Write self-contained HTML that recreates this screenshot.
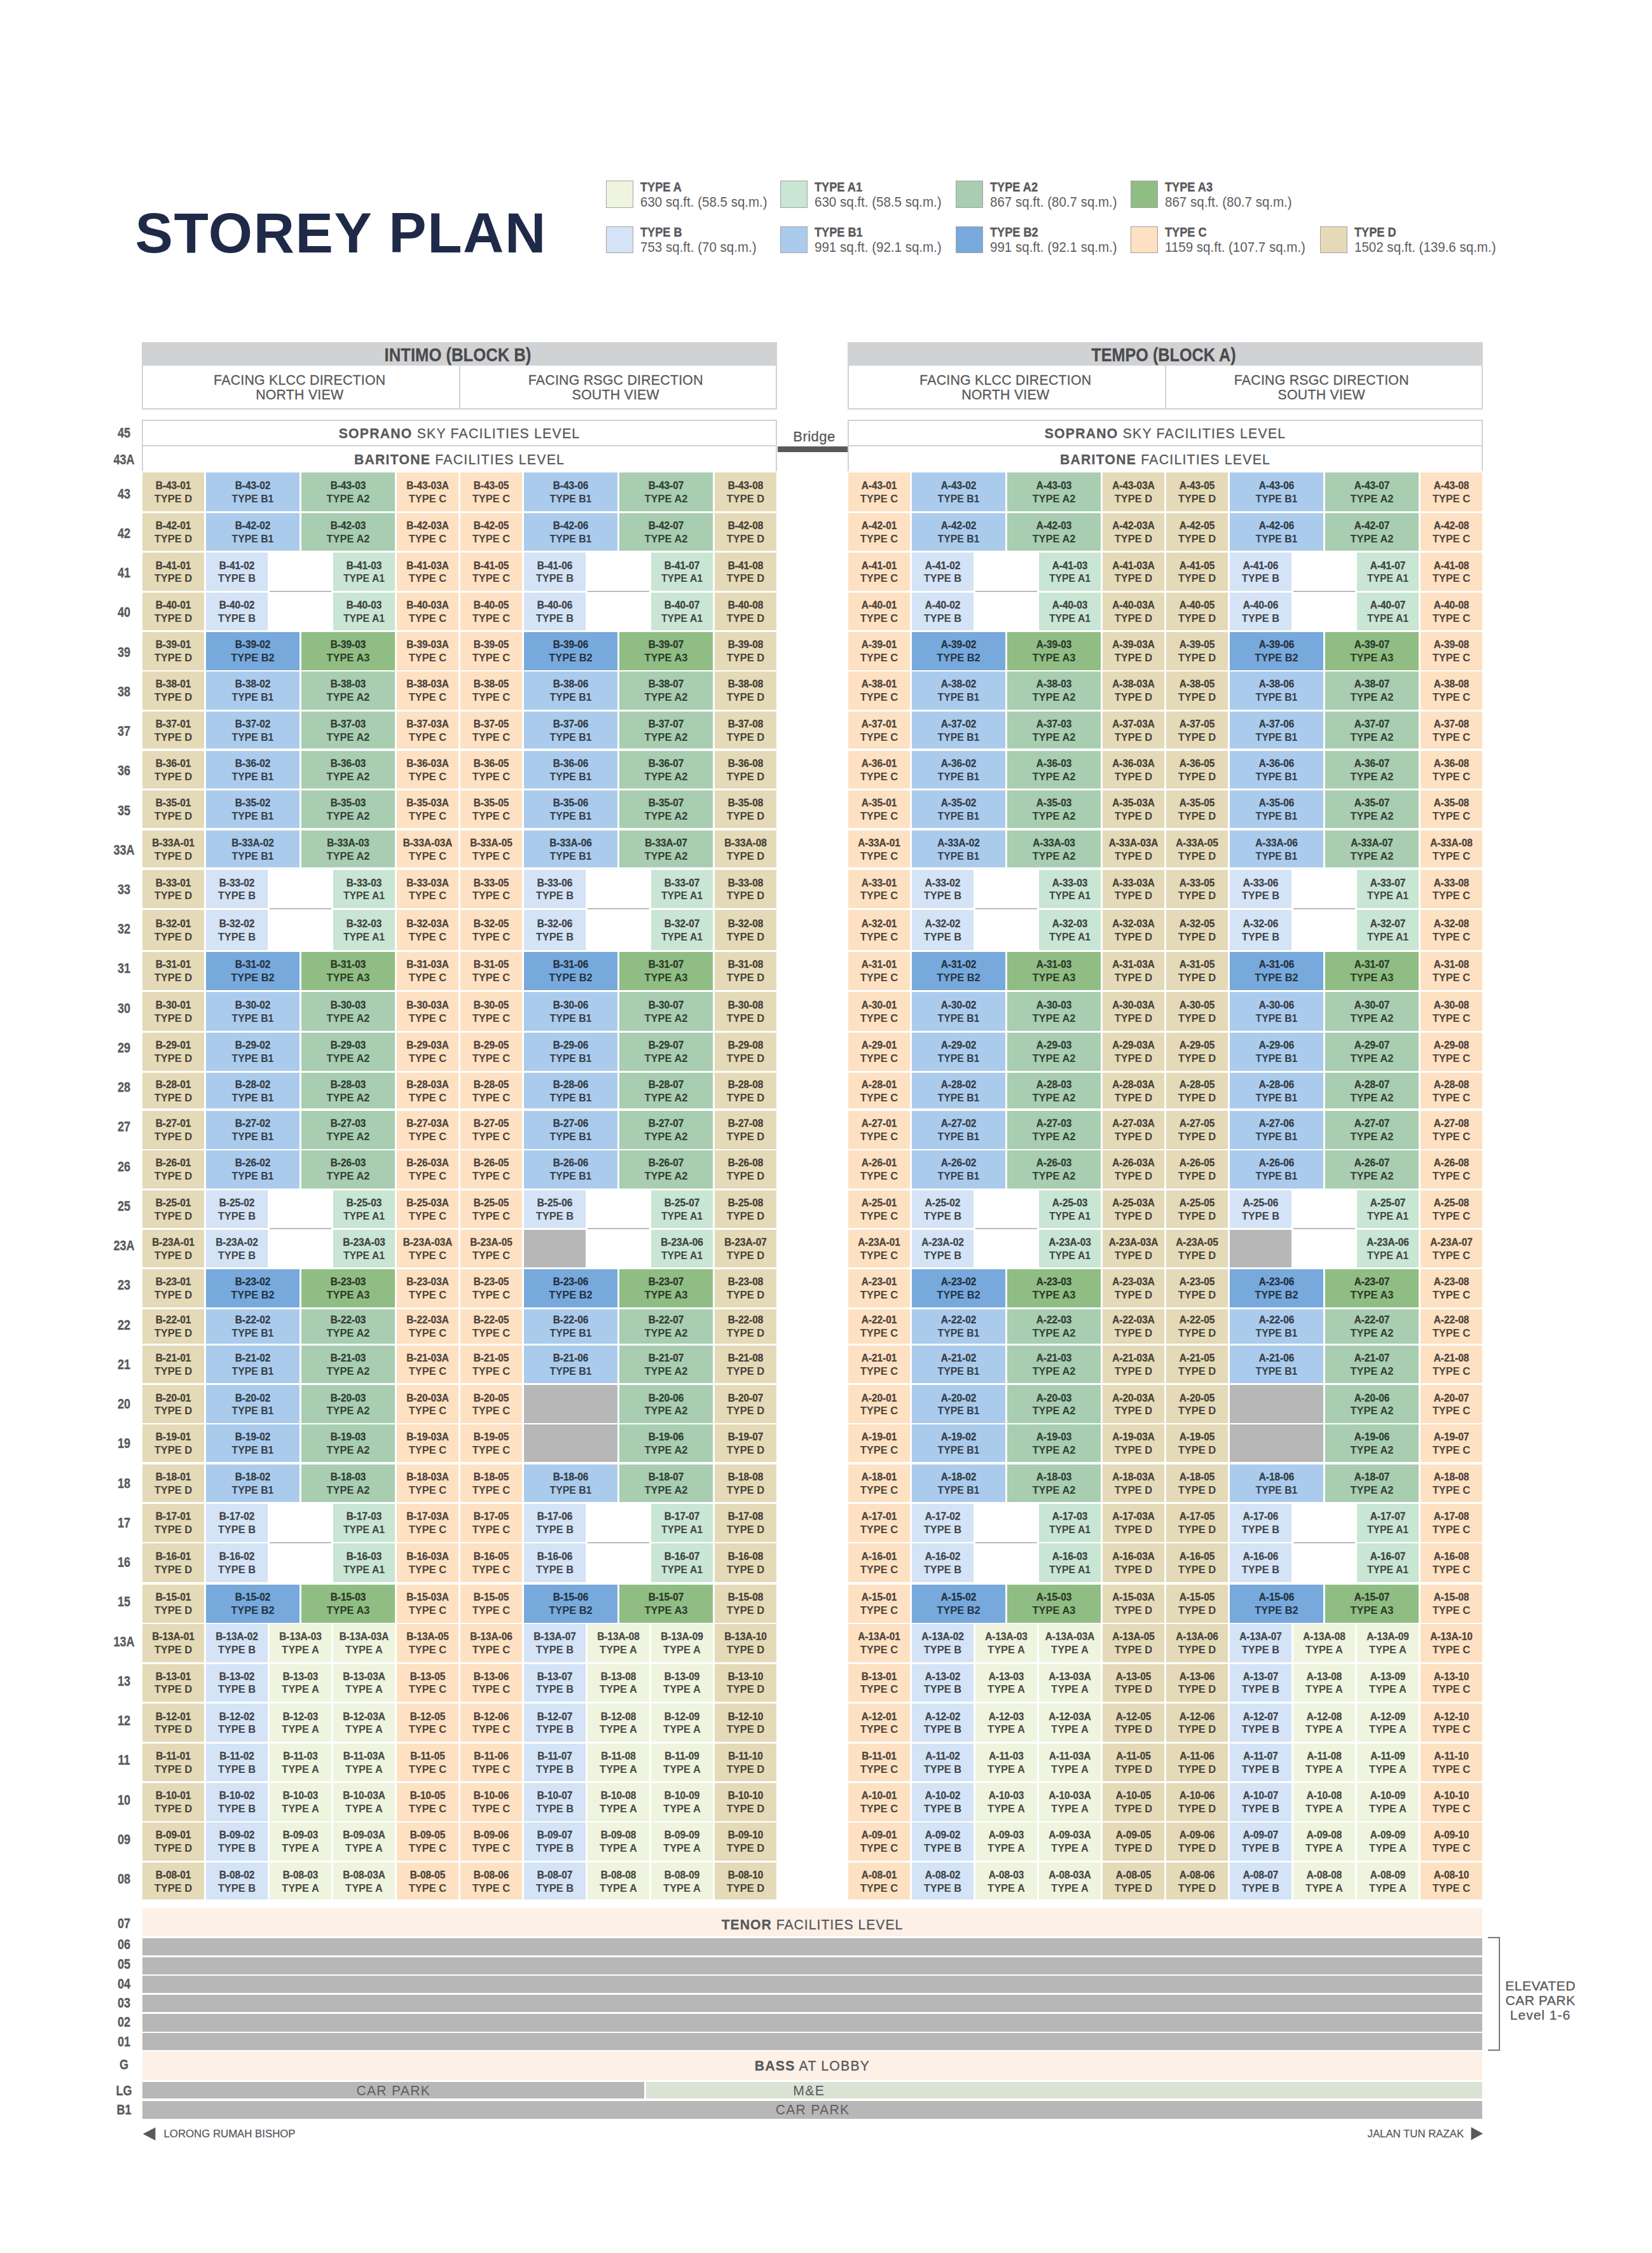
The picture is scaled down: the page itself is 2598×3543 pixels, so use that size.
<!DOCTYPE html><html><head><meta charset="utf-8"><title>Storey Plan</title><style>
*{margin:0;padding:0;box-sizing:border-box}
html,body{width:2598px;height:3543px;background:#fff;overflow:hidden}
body{position:relative;font-family:"Liberation Sans",sans-serif}
div{position:absolute}
.c{overflow:visible}
.c i,.c u{position:absolute;left:-20px;right:-20px;text-align:center;white-space:nowrap;font-weight:bold;line-height:1;font-size:16.8px;font-style:normal;text-decoration:none}
.c i{transform:scaleX(.915);-webkit-text-stroke:.35px currentColor}
.c u{transform:scaleX(.98)}
.c u.n{transform:scaleX(.94)}
.fl{left:160px;width:70px;text-align:center;font-weight:bold;font-size:22px;line-height:1;color:#58595b;transform:scaleX(.82);white-space:nowrap;-webkit-text-stroke:.35px #58595b}
.gt{white-space:nowrap;line-height:1;color:#58595b;letter-spacing:1.3px}
.tA{background:#eff4df;color:#4a4b45}.tA1{background:#c9e5d3;color:#3e4641}.tA2{background:#a8cdb1;color:#343f36}.tA3{background:#90bd84;color:#2c3a28}.tB{background:#d4e3f5;color:#41464b}.tB1{background:#abcbec;color:#353e49}.tB2{background:#77a9dc;color:#243444}.tC{background:#fde1c2;color:#4e453c}.tD{background:#e4dab8;color:#464339}.tG{background:#b8b7b7;color:#393838}</style></head><body><div style="top:321.66px;font-size:89px;line-height:1;white-space:nowrap;left:212.50px;font-weight:bold;color:#1f2a48;letter-spacing:1.6px;">STOREY PLAN</div><div style="left:953px;top:284.3px;width:42.5px;height:42.5px;background:#eff4df;border:1.3px solid #a3a3a3"></div><div style="top:283.12px;font-size:21px;line-height:1;white-space:nowrap;left:1007.30px;transform:scaleX(0.865);transform-origin:0 0;font-weight:bold;color:#58595b;-webkit-text-stroke:.4px #58595b;">TYPE A</div><div style="top:306.98px;font-size:22px;line-height:1;white-space:nowrap;left:1007.30px;transform:scaleX(0.933);transform-origin:0 0;color:#5d5d5f;">630 sq.ft. (58.5 sq.m.)</div><div style="left:1227px;top:284.3px;width:42.5px;height:42.5px;background:#c9e5d3;border:1.3px solid #a3a3a3"></div><div style="top:283.12px;font-size:21px;line-height:1;white-space:nowrap;left:1281.30px;transform:scaleX(0.865);transform-origin:0 0;font-weight:bold;color:#58595b;-webkit-text-stroke:.4px #58595b;">TYPE A1</div><div style="top:306.98px;font-size:22px;line-height:1;white-space:nowrap;left:1281.30px;transform:scaleX(0.933);transform-origin:0 0;color:#5d5d5f;">630 sq.ft. (58.5 sq.m.)</div><div style="left:1503px;top:284.3px;width:42.5px;height:42.5px;background:#a8cdb1;border:1.3px solid #a3a3a3"></div><div style="top:283.12px;font-size:21px;line-height:1;white-space:nowrap;left:1557.30px;transform:scaleX(0.865);transform-origin:0 0;font-weight:bold;color:#58595b;-webkit-text-stroke:.4px #58595b;">TYPE A2</div><div style="top:306.98px;font-size:22px;line-height:1;white-space:nowrap;left:1557.30px;transform:scaleX(0.933);transform-origin:0 0;color:#5d5d5f;">867 sq.ft. (80.7 sq.m.)</div><div style="left:1778px;top:284.3px;width:42.5px;height:42.5px;background:#90bd84;border:1.3px solid #a3a3a3"></div><div style="top:283.12px;font-size:21px;line-height:1;white-space:nowrap;left:1832.30px;transform:scaleX(0.865);transform-origin:0 0;font-weight:bold;color:#58595b;-webkit-text-stroke:.4px #58595b;">TYPE A3</div><div style="top:306.98px;font-size:22px;line-height:1;white-space:nowrap;left:1832.30px;transform:scaleX(0.933);transform-origin:0 0;color:#5d5d5f;">867 sq.ft. (80.7 sq.m.)</div><div style="left:953px;top:355.6px;width:42.5px;height:42.5px;background:#d4e3f5;border:1.3px solid #a3a3a3"></div><div style="top:354.42px;font-size:21px;line-height:1;white-space:nowrap;left:1007.30px;transform:scaleX(0.865);transform-origin:0 0;font-weight:bold;color:#58595b;-webkit-text-stroke:.4px #58595b;">TYPE B</div><div style="top:378.28px;font-size:22px;line-height:1;white-space:nowrap;left:1007.30px;transform:scaleX(0.933);transform-origin:0 0;color:#5d5d5f;">753 sq.ft. (70 sq.m.)</div><div style="left:1227px;top:355.6px;width:42.5px;height:42.5px;background:#abcbec;border:1.3px solid #a3a3a3"></div><div style="top:354.42px;font-size:21px;line-height:1;white-space:nowrap;left:1281.30px;transform:scaleX(0.865);transform-origin:0 0;font-weight:bold;color:#58595b;-webkit-text-stroke:.4px #58595b;">TYPE B1</div><div style="top:378.28px;font-size:22px;line-height:1;white-space:nowrap;left:1281.30px;transform:scaleX(0.933);transform-origin:0 0;color:#5d5d5f;">991 sq.ft. (92.1 sq.m.)</div><div style="left:1503px;top:355.6px;width:42.5px;height:42.5px;background:#77a9dc;border:1.3px solid #a3a3a3"></div><div style="top:354.42px;font-size:21px;line-height:1;white-space:nowrap;left:1557.30px;transform:scaleX(0.865);transform-origin:0 0;font-weight:bold;color:#58595b;-webkit-text-stroke:.4px #58595b;">TYPE B2</div><div style="top:378.28px;font-size:22px;line-height:1;white-space:nowrap;left:1557.30px;transform:scaleX(0.933);transform-origin:0 0;color:#5d5d5f;">991 sq.ft. (92.1 sq.m.)</div><div style="left:1778px;top:355.6px;width:42.5px;height:42.5px;background:#fde1c2;border:1.3px solid #a3a3a3"></div><div style="top:354.42px;font-size:21px;line-height:1;white-space:nowrap;left:1832.30px;transform:scaleX(0.865);transform-origin:0 0;font-weight:bold;color:#58595b;-webkit-text-stroke:.4px #58595b;">TYPE C</div><div style="top:378.28px;font-size:22px;line-height:1;white-space:nowrap;left:1832.30px;transform:scaleX(0.933);transform-origin:0 0;color:#5d5d5f;">1159 sq.ft. (107.7 sq.m.)</div><div style="left:2076px;top:355.6px;width:42.5px;height:42.5px;background:#e4dab8;border:1.3px solid #a3a3a3"></div><div style="top:354.42px;font-size:21px;line-height:1;white-space:nowrap;left:2130.30px;transform:scaleX(0.865);transform-origin:0 0;font-weight:bold;color:#58595b;-webkit-text-stroke:.4px #58595b;">TYPE D</div><div style="top:378.28px;font-size:22px;line-height:1;white-space:nowrap;left:2130.30px;transform:scaleX(0.933);transform-origin:0 0;color:#5d5d5f;">1502 sq.ft. (139.6 sq.m.)</div><div style="left:223px;top:538px;width:999px;height:36.5px;background:#d1d2d4"></div><div style="top:541.97px;font-size:30.4px;line-height:1;white-space:nowrap;left:319.50px;width:800px;text-align:center;transform:scaleX(0.844);font-weight:bold;color:#4a4a4d;-webkit-text-stroke:.3px #4a4a4d;">INTIMO (BLOCK B)</div><div style="left:223px;top:574.5px;width:999px;height:69.5px;border:2px solid #d1d2d4;border-top:0"></div><div style="left:721.5px;top:574.5px;width:2px;height:68px;background:#d1d2d4"></div><div style="top:588.17px;font-size:21.3px;line-height:1;white-space:nowrap;left:271.25px;width:400px;text-align:center;color:#58595b;letter-spacing:.25px;-webkit-text-stroke:.3px #58595b;">FACING KLCC DIRECTION</div><div style="top:610.57px;font-size:21.3px;line-height:1;white-space:nowrap;left:271.25px;width:400px;text-align:center;color:#58595b;letter-spacing:.25px;-webkit-text-stroke:.3px #58595b;">NORTH VIEW</div><div style="top:588.17px;font-size:21.3px;line-height:1;white-space:nowrap;left:768.25px;width:400px;text-align:center;color:#58595b;letter-spacing:.25px;-webkit-text-stroke:.3px #58595b;">FACING RSGC DIRECTION</div><div style="top:610.57px;font-size:21.3px;line-height:1;white-space:nowrap;left:768.25px;width:400px;text-align:center;color:#58595b;letter-spacing:.25px;-webkit-text-stroke:.3px #58595b;">SOUTH VIEW</div><div style="left:223px;top:660.2px;width:999px;height:80.4px;border:2px solid #d1d2d4;border-bottom:0"></div><div style="left:223px;top:700.3px;width:999px;height:1.9px;background:#d1d2d4"></div><div style="top:670.65px;font-size:21.2px;line-height:1;white-space:nowrap;left:422.50px;width:600px;text-align:center;color:#58595b;letter-spacing:1.25px;-webkit-text-stroke:.3px #58595b;"><b>SOPRANO</b> SKY FACILITIES LEVEL</div><div style="top:712.25px;font-size:21.2px;line-height:1;white-space:nowrap;left:422.50px;width:600px;text-align:center;color:#58595b;letter-spacing:1.25px;-webkit-text-stroke:.3px #58595b;"><b>BARITONE</b> FACILITIES LEVEL</div><div style="left:1333px;top:538px;width:999px;height:36.5px;background:#d1d2d4"></div><div style="top:541.97px;font-size:30.4px;line-height:1;white-space:nowrap;left:1429.50px;width:800px;text-align:center;transform:scaleX(0.83);font-weight:bold;color:#4a4a4d;-webkit-text-stroke:.3px #4a4a4d;">TEMPO (BLOCK A)</div><div style="left:1333px;top:574.5px;width:999px;height:69.5px;border:2px solid #d1d2d4;border-top:0"></div><div style="left:1831.5px;top:574.5px;width:2px;height:68px;background:#d1d2d4"></div><div style="top:588.17px;font-size:21.3px;line-height:1;white-space:nowrap;left:1381.25px;width:400px;text-align:center;color:#58595b;letter-spacing:.25px;-webkit-text-stroke:.3px #58595b;">FACING KLCC DIRECTION</div><div style="top:610.57px;font-size:21.3px;line-height:1;white-space:nowrap;left:1381.25px;width:400px;text-align:center;color:#58595b;letter-spacing:.25px;-webkit-text-stroke:.3px #58595b;">NORTH VIEW</div><div style="top:588.17px;font-size:21.3px;line-height:1;white-space:nowrap;left:1878.25px;width:400px;text-align:center;color:#58595b;letter-spacing:.25px;-webkit-text-stroke:.3px #58595b;">FACING RSGC DIRECTION</div><div style="top:610.57px;font-size:21.3px;line-height:1;white-space:nowrap;left:1878.25px;width:400px;text-align:center;color:#58595b;letter-spacing:.25px;-webkit-text-stroke:.3px #58595b;">SOUTH VIEW</div><div style="left:1333px;top:660.2px;width:999px;height:80.4px;border:2px solid #d1d2d4;border-bottom:0"></div><div style="left:1333px;top:700.3px;width:999px;height:1.9px;background:#d1d2d4"></div><div style="top:670.65px;font-size:21.2px;line-height:1;white-space:nowrap;left:1532.50px;width:600px;text-align:center;color:#58595b;letter-spacing:1.25px;-webkit-text-stroke:.3px #58595b;"><b>SOPRANO</b> SKY FACILITIES LEVEL</div><div style="top:712.25px;font-size:21.2px;line-height:1;white-space:nowrap;left:1532.50px;width:600px;text-align:center;color:#58595b;letter-spacing:1.25px;-webkit-text-stroke:.3px #58595b;"><b>BARITONE</b> FACILITIES LEVEL</div><div style="left:1222.5px;top:702px;width:110px;height:8.7px;background:#58595b"></div><div style="top:676.28px;font-size:22px;line-height:1;white-space:nowrap;left:1180.50px;width:200px;text-align:center;color:#58595b;letter-spacing:.5px;-webkit-text-stroke:.3px #58595b;">Bridge</div><div class="fl" style="top:669.78px">45</div><div class="fl" style="top:712.38px">43A</div><div class="fl" style="top:765.58px">43</div><div class="fl" style="top:827.82px">42</div><div class="fl" style="top:890.06px">41</div><div class="fl" style="top:952.30px">40</div><div class="fl" style="top:1014.54px">39</div><div class="fl" style="top:1076.78px">38</div><div class="fl" style="top:1139.02px">37</div><div class="fl" style="top:1201.26px">36</div><div class="fl" style="top:1263.50px">35</div><div class="fl" style="top:1325.74px">33A</div><div class="fl" style="top:1387.98px">33</div><div class="fl" style="top:1450.22px">32</div><div class="fl" style="top:1512.46px">31</div><div class="fl" style="top:1574.70px">30</div><div class="fl" style="top:1636.94px">29</div><div class="fl" style="top:1699.18px">28</div><div class="fl" style="top:1761.42px">27</div><div class="fl" style="top:1823.66px">26</div><div class="fl" style="top:1885.90px">25</div><div class="fl" style="top:1948.14px">23A</div><div class="fl" style="top:2010.38px">23</div><div class="fl" style="top:2072.62px">22</div><div class="fl" style="top:2134.86px">21</div><div class="fl" style="top:2197.10px">20</div><div class="fl" style="top:2259.34px">19</div><div class="fl" style="top:2321.58px">18</div><div class="fl" style="top:2383.82px">17</div><div class="fl" style="top:2446.06px">16</div><div class="fl" style="top:2508.30px">15</div><div class="fl" style="top:2570.54px">13A</div><div class="fl" style="top:2632.78px">13</div><div class="fl" style="top:2695.02px">12</div><div class="fl" style="top:2757.26px">11</div><div class="fl" style="top:2819.50px">10</div><div class="fl" style="top:2881.74px">09</div><div class="fl" style="top:2943.98px">08</div><div class="c tD" style="left:224.0px;top:743.1px;width:97px;height:60.5px"><i style="top:12.73px">B-43-01</i><u class="" style="top:33.53px">TYPE D</u></div><div class="c tB1" style="left:324.0px;top:743.1px;width:147px;height:60.5px"><i style="top:12.73px">B-43-02</i><u class="n" style="top:33.53px">TYPE B1</u></div><div class="c tA2" style="left:474.0px;top:743.1px;width:147px;height:60.5px"><i style="top:12.73px">B-43-03</i><u class="" style="top:33.53px">TYPE A2</u></div><div class="c tC" style="left:624.0px;top:743.1px;width:97px;height:60.5px"><i style="top:12.73px">B-43-03A</i><u class="" style="top:33.53px">TYPE C</u></div><div class="c tC" style="left:724.0px;top:743.1px;width:97px;height:60.5px"><i style="top:12.73px">B-43-05</i><u class="" style="top:33.53px">TYPE C</u></div><div class="c tB1" style="left:824.0px;top:743.1px;width:147px;height:60.5px"><i style="top:12.73px">B-43-06</i><u class="n" style="top:33.53px">TYPE B1</u></div><div class="c tA2" style="left:974.0px;top:743.1px;width:147px;height:60.5px"><i style="top:12.73px">B-43-07</i><u class="" style="top:33.53px">TYPE A2</u></div><div class="c tD" style="left:1124.0px;top:743.1px;width:97px;height:60.5px"><i style="top:12.73px">B-43-08</i><u class="" style="top:33.53px">TYPE D</u></div><div class="c tD" style="left:224.0px;top:807.0px;width:97px;height:58.7px"><i style="top:11.83px">B-42-01</i><u class="" style="top:32.63px">TYPE D</u></div><div class="c tB1" style="left:324.0px;top:807.0px;width:147px;height:58.7px"><i style="top:11.83px">B-42-02</i><u class="n" style="top:32.63px">TYPE B1</u></div><div class="c tA2" style="left:474.0px;top:807.0px;width:147px;height:58.7px"><i style="top:11.83px">B-42-03</i><u class="" style="top:32.63px">TYPE A2</u></div><div class="c tC" style="left:624.0px;top:807.0px;width:97px;height:58.7px"><i style="top:11.83px">B-42-03A</i><u class="" style="top:32.63px">TYPE C</u></div><div class="c tC" style="left:724.0px;top:807.0px;width:97px;height:58.7px"><i style="top:11.83px">B-42-05</i><u class="" style="top:32.63px">TYPE C</u></div><div class="c tB1" style="left:824.0px;top:807.0px;width:147px;height:58.7px"><i style="top:11.83px">B-42-06</i><u class="n" style="top:32.63px">TYPE B1</u></div><div class="c tA2" style="left:974.0px;top:807.0px;width:147px;height:58.7px"><i style="top:11.83px">B-42-07</i><u class="" style="top:32.63px">TYPE A2</u></div><div class="c tD" style="left:1124.0px;top:807.0px;width:97px;height:58.7px"><i style="top:11.83px">B-42-08</i><u class="" style="top:32.63px">TYPE D</u></div><div class="c tD" style="left:224.0px;top:869.2px;width:97px;height:59.7px"><i style="top:12.33px">B-41-01</i><u class="" style="top:33.13px">TYPE D</u></div><div class="c tB" style="left:324.0px;top:869.2px;width:97px;height:59.7px"><i style="top:12.33px">B-41-02</i><u class="" style="top:33.13px">TYPE B</u></div><div class="c tA1" style="left:524.0px;top:869.2px;width:97px;height:59.7px"><i style="top:12.33px">B-41-03</i><u class="n" style="top:33.13px">TYPE A1</u></div><div class="c tC" style="left:624.0px;top:869.2px;width:97px;height:59.7px"><i style="top:12.33px">B-41-03A</i><u class="" style="top:33.13px">TYPE C</u></div><div class="c tC" style="left:724.0px;top:869.2px;width:97px;height:59.7px"><i style="top:12.33px">B-41-05</i><u class="" style="top:33.13px">TYPE C</u></div><div class="c tB" style="left:824.0px;top:869.2px;width:97px;height:59.7px"><i style="top:12.33px">B-41-06</i><u class="" style="top:33.13px">TYPE B</u></div><div class="c tA1" style="left:1024.0px;top:869.2px;width:97px;height:59.7px"><i style="top:12.33px">B-41-07</i><u class="n" style="top:33.13px">TYPE A1</u></div><div class="c tD" style="left:1124.0px;top:869.2px;width:97px;height:59.7px"><i style="top:12.33px">B-41-08</i><u class="" style="top:33.13px">TYPE D</u></div><div style="left:424.0px;top:929.3px;width:97.4px;height:1.9px;background:#bcbcbc"></div><div style="left:924.0px;top:929.3px;width:97.4px;height:1.9px;background:#bcbcbc"></div><div class="c tD" style="left:224.0px;top:932.4px;width:97px;height:59.0px"><i style="top:11.98px">B-40-01</i><u class="" style="top:32.78px">TYPE D</u></div><div class="c tB" style="left:324.0px;top:932.4px;width:97px;height:59.0px"><i style="top:11.98px">B-40-02</i><u class="" style="top:32.78px">TYPE B</u></div><div class="c tA1" style="left:524.0px;top:932.4px;width:97px;height:59.0px"><i style="top:11.98px">B-40-03</i><u class="n" style="top:32.78px">TYPE A1</u></div><div class="c tC" style="left:624.0px;top:932.4px;width:97px;height:59.0px"><i style="top:11.98px">B-40-03A</i><u class="" style="top:32.78px">TYPE C</u></div><div class="c tC" style="left:724.0px;top:932.4px;width:97px;height:59.0px"><i style="top:11.98px">B-40-05</i><u class="" style="top:32.78px">TYPE C</u></div><div class="c tB" style="left:824.0px;top:932.4px;width:97px;height:59.0px"><i style="top:11.98px">B-40-06</i><u class="" style="top:32.78px">TYPE B</u></div><div class="c tA1" style="left:1024.0px;top:932.4px;width:97px;height:59.0px"><i style="top:11.98px">B-40-07</i><u class="n" style="top:32.78px">TYPE A1</u></div><div class="c tD" style="left:1124.0px;top:932.4px;width:97px;height:59.0px"><i style="top:11.98px">B-40-08</i><u class="" style="top:32.78px">TYPE D</u></div><div class="c tD" style="left:224.0px;top:994.1px;width:97px;height:59.7px"><i style="top:12.33px">B-39-01</i><u class="" style="top:33.13px">TYPE D</u></div><div class="c tB2" style="left:324.0px;top:994.1px;width:147px;height:59.7px"><i style="top:12.33px">B-39-02</i><u class="" style="top:33.13px">TYPE B2</u></div><div class="c tA3" style="left:474.0px;top:994.1px;width:147px;height:59.7px"><i style="top:12.33px">B-39-03</i><u class="" style="top:33.13px">TYPE A3</u></div><div class="c tC" style="left:624.0px;top:994.1px;width:97px;height:59.7px"><i style="top:12.33px">B-39-03A</i><u class="" style="top:33.13px">TYPE C</u></div><div class="c tC" style="left:724.0px;top:994.1px;width:97px;height:59.7px"><i style="top:12.33px">B-39-05</i><u class="" style="top:33.13px">TYPE C</u></div><div class="c tB2" style="left:824.0px;top:994.1px;width:147px;height:59.7px"><i style="top:12.33px">B-39-06</i><u class="" style="top:33.13px">TYPE B2</u></div><div class="c tA3" style="left:974.0px;top:994.1px;width:147px;height:59.7px"><i style="top:12.33px">B-39-07</i><u class="" style="top:33.13px">TYPE A3</u></div><div class="c tD" style="left:1124.0px;top:994.1px;width:97px;height:59.7px"><i style="top:12.33px">B-39-08</i><u class="" style="top:33.13px">TYPE D</u></div><div class="c tD" style="left:224.0px;top:1056.0px;width:97px;height:59.8px"><i style="top:12.38px">B-38-01</i><u class="" style="top:33.18px">TYPE D</u></div><div class="c tB1" style="left:324.0px;top:1056.0px;width:147px;height:59.8px"><i style="top:12.38px">B-38-02</i><u class="n" style="top:33.18px">TYPE B1</u></div><div class="c tA2" style="left:474.0px;top:1056.0px;width:147px;height:59.8px"><i style="top:12.38px">B-38-03</i><u class="" style="top:33.18px">TYPE A2</u></div><div class="c tC" style="left:624.0px;top:1056.0px;width:97px;height:59.8px"><i style="top:12.38px">B-38-03A</i><u class="" style="top:33.18px">TYPE C</u></div><div class="c tC" style="left:724.0px;top:1056.0px;width:97px;height:59.8px"><i style="top:12.38px">B-38-05</i><u class="" style="top:33.18px">TYPE C</u></div><div class="c tB1" style="left:824.0px;top:1056.0px;width:147px;height:59.8px"><i style="top:12.38px">B-38-06</i><u class="n" style="top:33.18px">TYPE B1</u></div><div class="c tA2" style="left:974.0px;top:1056.0px;width:147px;height:59.8px"><i style="top:12.38px">B-38-07</i><u class="" style="top:33.18px">TYPE A2</u></div><div class="c tD" style="left:1124.0px;top:1056.0px;width:97px;height:59.8px"><i style="top:12.38px">B-38-08</i><u class="" style="top:33.18px">TYPE D</u></div><div class="c tD" style="left:224.0px;top:1119.3px;width:97px;height:58.2px"><i style="top:11.58px">B-37-01</i><u class="" style="top:32.38px">TYPE D</u></div><div class="c tB1" style="left:324.0px;top:1119.3px;width:147px;height:58.2px"><i style="top:11.58px">B-37-02</i><u class="n" style="top:32.38px">TYPE B1</u></div><div class="c tA2" style="left:474.0px;top:1119.3px;width:147px;height:58.2px"><i style="top:11.58px">B-37-03</i><u class="" style="top:32.38px">TYPE A2</u></div><div class="c tC" style="left:624.0px;top:1119.3px;width:97px;height:58.2px"><i style="top:11.58px">B-37-03A</i><u class="" style="top:32.38px">TYPE C</u></div><div class="c tC" style="left:724.0px;top:1119.3px;width:97px;height:58.2px"><i style="top:11.58px">B-37-05</i><u class="" style="top:32.38px">TYPE C</u></div><div class="c tB1" style="left:824.0px;top:1119.3px;width:147px;height:58.2px"><i style="top:11.58px">B-37-06</i><u class="n" style="top:32.38px">TYPE B1</u></div><div class="c tA2" style="left:974.0px;top:1119.3px;width:147px;height:58.2px"><i style="top:11.58px">B-37-07</i><u class="" style="top:32.38px">TYPE A2</u></div><div class="c tD" style="left:1124.0px;top:1119.3px;width:97px;height:58.2px"><i style="top:11.58px">B-37-08</i><u class="" style="top:32.38px">TYPE D</u></div><div class="c tD" style="left:224.0px;top:1181.0px;width:97px;height:59.3px"><i style="top:12.13px">B-36-01</i><u class="" style="top:32.93px">TYPE D</u></div><div class="c tB1" style="left:324.0px;top:1181.0px;width:147px;height:59.3px"><i style="top:12.13px">B-36-02</i><u class="n" style="top:32.93px">TYPE B1</u></div><div class="c tA2" style="left:474.0px;top:1181.0px;width:147px;height:59.3px"><i style="top:12.13px">B-36-03</i><u class="" style="top:32.93px">TYPE A2</u></div><div class="c tC" style="left:624.0px;top:1181.0px;width:97px;height:59.3px"><i style="top:12.13px">B-36-03A</i><u class="" style="top:32.93px">TYPE C</u></div><div class="c tC" style="left:724.0px;top:1181.0px;width:97px;height:59.3px"><i style="top:12.13px">B-36-05</i><u class="" style="top:32.93px">TYPE C</u></div><div class="c tB1" style="left:824.0px;top:1181.0px;width:147px;height:59.3px"><i style="top:12.13px">B-36-06</i><u class="n" style="top:32.93px">TYPE B1</u></div><div class="c tA2" style="left:974.0px;top:1181.0px;width:147px;height:59.3px"><i style="top:12.13px">B-36-07</i><u class="" style="top:32.93px">TYPE A2</u></div><div class="c tD" style="left:1124.0px;top:1181.0px;width:97px;height:59.3px"><i style="top:12.13px">B-36-08</i><u class="" style="top:32.93px">TYPE D</u></div><div class="c tD" style="left:224.0px;top:1243.2px;width:97px;height:59.3px"><i style="top:12.13px">B-35-01</i><u class="" style="top:32.93px">TYPE D</u></div><div class="c tB1" style="left:324.0px;top:1243.2px;width:147px;height:59.3px"><i style="top:12.13px">B-35-02</i><u class="n" style="top:32.93px">TYPE B1</u></div><div class="c tA2" style="left:474.0px;top:1243.2px;width:147px;height:59.3px"><i style="top:12.13px">B-35-03</i><u class="" style="top:32.93px">TYPE A2</u></div><div class="c tC" style="left:624.0px;top:1243.2px;width:97px;height:59.3px"><i style="top:12.13px">B-35-03A</i><u class="" style="top:32.93px">TYPE C</u></div><div class="c tC" style="left:724.0px;top:1243.2px;width:97px;height:59.3px"><i style="top:12.13px">B-35-05</i><u class="" style="top:32.93px">TYPE C</u></div><div class="c tB1" style="left:824.0px;top:1243.2px;width:147px;height:59.3px"><i style="top:12.13px">B-35-06</i><u class="n" style="top:32.93px">TYPE B1</u></div><div class="c tA2" style="left:974.0px;top:1243.2px;width:147px;height:59.3px"><i style="top:12.13px">B-35-07</i><u class="" style="top:32.93px">TYPE A2</u></div><div class="c tD" style="left:1124.0px;top:1243.2px;width:97px;height:59.3px"><i style="top:12.13px">B-35-08</i><u class="" style="top:32.93px">TYPE D</u></div><div class="c tD" style="left:224.0px;top:1306.3px;width:97px;height:58.0px"><i style="top:11.48px">B-33A-01</i><u class="" style="top:32.28px">TYPE D</u></div><div class="c tB1" style="left:324.0px;top:1306.3px;width:147px;height:58.0px"><i style="top:11.48px">B-33A-02</i><u class="n" style="top:32.28px">TYPE B1</u></div><div class="c tA2" style="left:474.0px;top:1306.3px;width:147px;height:58.0px"><i style="top:11.48px">B-33A-03</i><u class="" style="top:32.28px">TYPE A2</u></div><div class="c tC" style="left:624.0px;top:1306.3px;width:97px;height:58.0px"><i style="top:11.48px">B-33A-03A</i><u class="" style="top:32.28px">TYPE C</u></div><div class="c tC" style="left:724.0px;top:1306.3px;width:97px;height:58.0px"><i style="top:11.48px">B-33A-05</i><u class="" style="top:32.28px">TYPE C</u></div><div class="c tB1" style="left:824.0px;top:1306.3px;width:147px;height:58.0px"><i style="top:11.48px">B-33A-06</i><u class="n" style="top:32.28px">TYPE B1</u></div><div class="c tA2" style="left:974.0px;top:1306.3px;width:147px;height:58.0px"><i style="top:11.48px">B-33A-07</i><u class="" style="top:32.28px">TYPE A2</u></div><div class="c tD" style="left:1124.0px;top:1306.3px;width:97px;height:58.0px"><i style="top:11.48px">B-33A-08</i><u class="" style="top:32.28px">TYPE D</u></div><div class="c tD" style="left:224.0px;top:1368.2px;width:97px;height:59.7px"><i style="top:12.33px">B-33-01</i><u class="" style="top:33.13px">TYPE D</u></div><div class="c tB" style="left:324.0px;top:1368.2px;width:97px;height:59.7px"><i style="top:12.33px">B-33-02</i><u class="" style="top:33.13px">TYPE B</u></div><div class="c tA1" style="left:524.0px;top:1368.2px;width:97px;height:59.7px"><i style="top:12.33px">B-33-03</i><u class="n" style="top:33.13px">TYPE A1</u></div><div class="c tC" style="left:624.0px;top:1368.2px;width:97px;height:59.7px"><i style="top:12.33px">B-33-03A</i><u class="" style="top:33.13px">TYPE C</u></div><div class="c tC" style="left:724.0px;top:1368.2px;width:97px;height:59.7px"><i style="top:12.33px">B-33-05</i><u class="" style="top:33.13px">TYPE C</u></div><div class="c tB" style="left:824.0px;top:1368.2px;width:97px;height:59.7px"><i style="top:12.33px">B-33-06</i><u class="" style="top:33.13px">TYPE B</u></div><div class="c tA1" style="left:1024.0px;top:1368.2px;width:97px;height:59.7px"><i style="top:12.33px">B-33-07</i><u class="n" style="top:33.13px">TYPE A1</u></div><div class="c tD" style="left:1124.0px;top:1368.2px;width:97px;height:59.7px"><i style="top:12.33px">B-33-08</i><u class="" style="top:33.13px">TYPE D</u></div><div style="left:424.0px;top:1428.3px;width:97.4px;height:1.9px;background:#bcbcbc"></div><div style="left:924.0px;top:1428.3px;width:97.4px;height:1.9px;background:#bcbcbc"></div><div class="c tD" style="left:224.0px;top:1431.0px;width:97px;height:63.2px"><i style="top:14.08px">B-32-01</i><u class="" style="top:34.88px">TYPE D</u></div><div class="c tB" style="left:324.0px;top:1431.0px;width:97px;height:63.2px"><i style="top:14.08px">B-32-02</i><u class="" style="top:34.88px">TYPE B</u></div><div class="c tA1" style="left:524.0px;top:1431.0px;width:97px;height:63.2px"><i style="top:14.08px">B-32-03</i><u class="n" style="top:34.88px">TYPE A1</u></div><div class="c tC" style="left:624.0px;top:1431.0px;width:97px;height:63.2px"><i style="top:14.08px">B-32-03A</i><u class="" style="top:34.88px">TYPE C</u></div><div class="c tC" style="left:724.0px;top:1431.0px;width:97px;height:63.2px"><i style="top:14.08px">B-32-05</i><u class="" style="top:34.88px">TYPE C</u></div><div class="c tB" style="left:824.0px;top:1431.0px;width:97px;height:63.2px"><i style="top:14.08px">B-32-06</i><u class="" style="top:34.88px">TYPE B</u></div><div class="c tA1" style="left:1024.0px;top:1431.0px;width:97px;height:63.2px"><i style="top:14.08px">B-32-07</i><u class="n" style="top:34.88px">TYPE A1</u></div><div class="c tD" style="left:1124.0px;top:1431.0px;width:97px;height:63.2px"><i style="top:14.08px">B-32-08</i><u class="" style="top:34.88px">TYPE D</u></div><div class="c tD" style="left:224.0px;top:1497.0px;width:97px;height:59.7px"><i style="top:12.33px">B-31-01</i><u class="" style="top:33.13px">TYPE D</u></div><div class="c tB2" style="left:324.0px;top:1497.0px;width:147px;height:59.7px"><i style="top:12.33px">B-31-02</i><u class="" style="top:33.13px">TYPE B2</u></div><div class="c tA3" style="left:474.0px;top:1497.0px;width:147px;height:59.7px"><i style="top:12.33px">B-31-03</i><u class="" style="top:33.13px">TYPE A3</u></div><div class="c tC" style="left:624.0px;top:1497.0px;width:97px;height:59.7px"><i style="top:12.33px">B-31-03A</i><u class="" style="top:33.13px">TYPE C</u></div><div class="c tC" style="left:724.0px;top:1497.0px;width:97px;height:59.7px"><i style="top:12.33px">B-31-05</i><u class="" style="top:33.13px">TYPE C</u></div><div class="c tB2" style="left:824.0px;top:1497.0px;width:147px;height:59.7px"><i style="top:12.33px">B-31-06</i><u class="" style="top:33.13px">TYPE B2</u></div><div class="c tA3" style="left:974.0px;top:1497.0px;width:147px;height:59.7px"><i style="top:12.33px">B-31-07</i><u class="" style="top:33.13px">TYPE A3</u></div><div class="c tD" style="left:1124.0px;top:1497.0px;width:97px;height:59.7px"><i style="top:12.33px">B-31-08</i><u class="" style="top:33.13px">TYPE D</u></div><div class="c tD" style="left:224.0px;top:1560.0px;width:97px;height:61.0px"><i style="top:12.98px">B-30-01</i><u class="" style="top:33.78px">TYPE D</u></div><div class="c tB1" style="left:324.0px;top:1560.0px;width:147px;height:61.0px"><i style="top:12.98px">B-30-02</i><u class="n" style="top:33.78px">TYPE B1</u></div><div class="c tA2" style="left:474.0px;top:1560.0px;width:147px;height:61.0px"><i style="top:12.98px">B-30-03</i><u class="" style="top:33.78px">TYPE A2</u></div><div class="c tC" style="left:624.0px;top:1560.0px;width:97px;height:61.0px"><i style="top:12.98px">B-30-03A</i><u class="" style="top:33.78px">TYPE C</u></div><div class="c tC" style="left:724.0px;top:1560.0px;width:97px;height:61.0px"><i style="top:12.98px">B-30-05</i><u class="" style="top:33.78px">TYPE C</u></div><div class="c tB1" style="left:824.0px;top:1560.0px;width:147px;height:61.0px"><i style="top:12.98px">B-30-06</i><u class="n" style="top:33.78px">TYPE B1</u></div><div class="c tA2" style="left:974.0px;top:1560.0px;width:147px;height:61.0px"><i style="top:12.98px">B-30-07</i><u class="" style="top:33.78px">TYPE A2</u></div><div class="c tD" style="left:1124.0px;top:1560.0px;width:97px;height:61.0px"><i style="top:12.98px">B-30-08</i><u class="" style="top:33.78px">TYPE D</u></div><div class="c tD" style="left:224.0px;top:1624.0px;width:97px;height:59.6px"><i style="top:12.28px">B-29-01</i><u class="" style="top:33.08px">TYPE D</u></div><div class="c tB1" style="left:324.0px;top:1624.0px;width:147px;height:59.6px"><i style="top:12.28px">B-29-02</i><u class="n" style="top:33.08px">TYPE B1</u></div><div class="c tA2" style="left:474.0px;top:1624.0px;width:147px;height:59.6px"><i style="top:12.28px">B-29-03</i><u class="" style="top:33.08px">TYPE A2</u></div><div class="c tC" style="left:624.0px;top:1624.0px;width:97px;height:59.6px"><i style="top:12.28px">B-29-03A</i><u class="" style="top:33.08px">TYPE C</u></div><div class="c tC" style="left:724.0px;top:1624.0px;width:97px;height:59.6px"><i style="top:12.28px">B-29-05</i><u class="" style="top:33.08px">TYPE C</u></div><div class="c tB1" style="left:824.0px;top:1624.0px;width:147px;height:59.6px"><i style="top:12.28px">B-29-06</i><u class="n" style="top:33.08px">TYPE B1</u></div><div class="c tA2" style="left:974.0px;top:1624.0px;width:147px;height:59.6px"><i style="top:12.28px">B-29-07</i><u class="" style="top:33.08px">TYPE A2</u></div><div class="c tD" style="left:1124.0px;top:1624.0px;width:97px;height:59.6px"><i style="top:12.28px">B-29-08</i><u class="" style="top:33.08px">TYPE D</u></div><div class="c tD" style="left:224.0px;top:1687.1px;width:97px;height:56.4px"><i style="top:10.68px">B-28-01</i><u class="" style="top:31.48px">TYPE D</u></div><div class="c tB1" style="left:324.0px;top:1687.1px;width:147px;height:56.4px"><i style="top:10.68px">B-28-02</i><u class="n" style="top:31.48px">TYPE B1</u></div><div class="c tA2" style="left:474.0px;top:1687.1px;width:147px;height:56.4px"><i style="top:10.68px">B-28-03</i><u class="" style="top:31.48px">TYPE A2</u></div><div class="c tC" style="left:624.0px;top:1687.1px;width:97px;height:56.4px"><i style="top:10.68px">B-28-03A</i><u class="" style="top:31.48px">TYPE C</u></div><div class="c tC" style="left:724.0px;top:1687.1px;width:97px;height:56.4px"><i style="top:10.68px">B-28-05</i><u class="" style="top:31.48px">TYPE C</u></div><div class="c tB1" style="left:824.0px;top:1687.1px;width:147px;height:56.4px"><i style="top:10.68px">B-28-06</i><u class="n" style="top:31.48px">TYPE B1</u></div><div class="c tA2" style="left:974.0px;top:1687.1px;width:147px;height:56.4px"><i style="top:10.68px">B-28-07</i><u class="" style="top:31.48px">TYPE A2</u></div><div class="c tD" style="left:1124.0px;top:1687.1px;width:97px;height:56.4px"><i style="top:10.68px">B-28-08</i><u class="" style="top:31.48px">TYPE D</u></div><div class="c tD" style="left:224.0px;top:1747.0px;width:97px;height:59.7px"><i style="top:12.33px">B-27-01</i><u class="" style="top:33.13px">TYPE D</u></div><div class="c tB1" style="left:324.0px;top:1747.0px;width:147px;height:59.7px"><i style="top:12.33px">B-27-02</i><u class="n" style="top:33.13px">TYPE B1</u></div><div class="c tA2" style="left:474.0px;top:1747.0px;width:147px;height:59.7px"><i style="top:12.33px">B-27-03</i><u class="" style="top:33.13px">TYPE A2</u></div><div class="c tC" style="left:624.0px;top:1747.0px;width:97px;height:59.7px"><i style="top:12.33px">B-27-03A</i><u class="" style="top:33.13px">TYPE C</u></div><div class="c tC" style="left:724.0px;top:1747.0px;width:97px;height:59.7px"><i style="top:12.33px">B-27-05</i><u class="" style="top:33.13px">TYPE C</u></div><div class="c tB1" style="left:824.0px;top:1747.0px;width:147px;height:59.7px"><i style="top:12.33px">B-27-06</i><u class="n" style="top:33.13px">TYPE B1</u></div><div class="c tA2" style="left:974.0px;top:1747.0px;width:147px;height:59.7px"><i style="top:12.33px">B-27-07</i><u class="" style="top:33.13px">TYPE A2</u></div><div class="c tD" style="left:1124.0px;top:1747.0px;width:97px;height:59.7px"><i style="top:12.33px">B-27-08</i><u class="" style="top:33.13px">TYPE D</u></div><div class="c tD" style="left:224.0px;top:1809.4px;width:97px;height:59.2px"><i style="top:12.08px">B-26-01</i><u class="" style="top:32.88px">TYPE D</u></div><div class="c tB1" style="left:324.0px;top:1809.4px;width:147px;height:59.2px"><i style="top:12.08px">B-26-02</i><u class="n" style="top:32.88px">TYPE B1</u></div><div class="c tA2" style="left:474.0px;top:1809.4px;width:147px;height:59.2px"><i style="top:12.08px">B-26-03</i><u class="" style="top:32.88px">TYPE A2</u></div><div class="c tC" style="left:624.0px;top:1809.4px;width:97px;height:59.2px"><i style="top:12.08px">B-26-03A</i><u class="" style="top:32.88px">TYPE C</u></div><div class="c tC" style="left:724.0px;top:1809.4px;width:97px;height:59.2px"><i style="top:12.08px">B-26-05</i><u class="" style="top:32.88px">TYPE C</u></div><div class="c tB1" style="left:824.0px;top:1809.4px;width:147px;height:59.2px"><i style="top:12.08px">B-26-06</i><u class="n" style="top:32.88px">TYPE B1</u></div><div class="c tA2" style="left:974.0px;top:1809.4px;width:147px;height:59.2px"><i style="top:12.08px">B-26-07</i><u class="" style="top:32.88px">TYPE A2</u></div><div class="c tD" style="left:1124.0px;top:1809.4px;width:97px;height:59.2px"><i style="top:12.08px">B-26-08</i><u class="" style="top:32.88px">TYPE D</u></div><div class="c tD" style="left:224.0px;top:1872.0px;width:97px;height:58.7px"><i style="top:11.83px">B-25-01</i><u class="" style="top:32.63px">TYPE D</u></div><div class="c tB" style="left:324.0px;top:1872.0px;width:97px;height:58.7px"><i style="top:11.83px">B-25-02</i><u class="" style="top:32.63px">TYPE B</u></div><div class="c tA1" style="left:524.0px;top:1872.0px;width:97px;height:58.7px"><i style="top:11.83px">B-25-03</i><u class="n" style="top:32.63px">TYPE A1</u></div><div class="c tC" style="left:624.0px;top:1872.0px;width:97px;height:58.7px"><i style="top:11.83px">B-25-03A</i><u class="" style="top:32.63px">TYPE C</u></div><div class="c tC" style="left:724.0px;top:1872.0px;width:97px;height:58.7px"><i style="top:11.83px">B-25-05</i><u class="" style="top:32.63px">TYPE C</u></div><div class="c tB" style="left:824.0px;top:1872.0px;width:97px;height:58.7px"><i style="top:11.83px">B-25-06</i><u class="" style="top:32.63px">TYPE B</u></div><div class="c tA1" style="left:1024.0px;top:1872.0px;width:97px;height:58.7px"><i style="top:11.83px">B-25-07</i><u class="n" style="top:32.63px">TYPE A1</u></div><div class="c tD" style="left:1124.0px;top:1872.0px;width:97px;height:58.7px"><i style="top:11.83px">B-25-08</i><u class="" style="top:32.63px">TYPE D</u></div><div style="left:424.0px;top:1931.1px;width:97.4px;height:1.9px;background:#bcbcbc"></div><div style="left:924.0px;top:1931.1px;width:97.4px;height:1.9px;background:#bcbcbc"></div><div class="c tD" style="left:224.0px;top:1933.8px;width:97px;height:59.7px"><i style="top:12.33px">B-23A-01</i><u class="" style="top:33.13px">TYPE D</u></div><div class="c tB" style="left:324.0px;top:1933.8px;width:97px;height:59.7px"><i style="top:12.33px">B-23A-02</i><u class="" style="top:33.13px">TYPE B</u></div><div class="c tA1" style="left:524.0px;top:1933.8px;width:97px;height:59.7px"><i style="top:12.33px">B-23A-03</i><u class="n" style="top:33.13px">TYPE A1</u></div><div class="c tC" style="left:624.0px;top:1933.8px;width:97px;height:59.7px"><i style="top:12.33px">B-23A-03A</i><u class="" style="top:33.13px">TYPE C</u></div><div class="c tC" style="left:724.0px;top:1933.8px;width:97px;height:59.7px"><i style="top:12.33px">B-23A-05</i><u class="" style="top:33.13px">TYPE C</u></div><div class="tG" style="left:824.0px;top:1933.8px;width:97px;height:59.7px"></div><div class="c tA1" style="left:1024.0px;top:1933.8px;width:97px;height:59.7px"><i style="top:12.33px">B-23A-06</i><u class="n" style="top:33.13px">TYPE A1</u></div><div class="c tD" style="left:1124.0px;top:1933.8px;width:97px;height:59.7px"><i style="top:12.33px">B-23A-07</i><u class="" style="top:33.13px">TYPE D</u></div><div class="c tD" style="left:224.0px;top:1996.0px;width:97px;height:60.0px"><i style="top:12.48px">B-23-01</i><u class="" style="top:33.28px">TYPE D</u></div><div class="c tB2" style="left:324.0px;top:1996.0px;width:147px;height:60.0px"><i style="top:12.48px">B-23-02</i><u class="" style="top:33.28px">TYPE B2</u></div><div class="c tA3" style="left:474.0px;top:1996.0px;width:147px;height:60.0px"><i style="top:12.48px">B-23-03</i><u class="" style="top:33.28px">TYPE A3</u></div><div class="c tC" style="left:624.0px;top:1996.0px;width:97px;height:60.0px"><i style="top:12.48px">B-23-03A</i><u class="" style="top:33.28px">TYPE C</u></div><div class="c tC" style="left:724.0px;top:1996.0px;width:97px;height:60.0px"><i style="top:12.48px">B-23-05</i><u class="" style="top:33.28px">TYPE C</u></div><div class="c tB2" style="left:824.0px;top:1996.0px;width:147px;height:60.0px"><i style="top:12.48px">B-23-06</i><u class="" style="top:33.28px">TYPE B2</u></div><div class="c tA3" style="left:974.0px;top:1996.0px;width:147px;height:60.0px"><i style="top:12.48px">B-23-07</i><u class="" style="top:33.28px">TYPE A3</u></div><div class="c tD" style="left:1124.0px;top:1996.0px;width:97px;height:60.0px"><i style="top:12.48px">B-23-08</i><u class="" style="top:33.28px">TYPE D</u></div><div class="c tD" style="left:224.0px;top:2059.1px;width:97px;height:53.7px"><i style="top:9.33px">B-22-01</i><u class="" style="top:30.13px">TYPE D</u></div><div class="c tB1" style="left:324.0px;top:2059.1px;width:147px;height:53.7px"><i style="top:9.33px">B-22-02</i><u class="n" style="top:30.13px">TYPE B1</u></div><div class="c tA2" style="left:474.0px;top:2059.1px;width:147px;height:53.7px"><i style="top:9.33px">B-22-03</i><u class="" style="top:30.13px">TYPE A2</u></div><div class="c tC" style="left:624.0px;top:2059.1px;width:97px;height:53.7px"><i style="top:9.33px">B-22-03A</i><u class="" style="top:30.13px">TYPE C</u></div><div class="c tC" style="left:724.0px;top:2059.1px;width:97px;height:53.7px"><i style="top:9.33px">B-22-05</i><u class="" style="top:30.13px">TYPE C</u></div><div class="c tB1" style="left:824.0px;top:2059.1px;width:147px;height:53.7px"><i style="top:9.33px">B-22-06</i><u class="n" style="top:30.13px">TYPE B1</u></div><div class="c tA2" style="left:974.0px;top:2059.1px;width:147px;height:53.7px"><i style="top:9.33px">B-22-07</i><u class="" style="top:30.13px">TYPE A2</u></div><div class="c tD" style="left:1124.0px;top:2059.1px;width:97px;height:53.7px"><i style="top:9.33px">B-22-08</i><u class="" style="top:30.13px">TYPE D</u></div><div class="c tD" style="left:224.0px;top:2115.8px;width:97px;height:59.0px"><i style="top:11.98px">B-21-01</i><u class="" style="top:32.78px">TYPE D</u></div><div class="c tB1" style="left:324.0px;top:2115.8px;width:147px;height:59.0px"><i style="top:11.98px">B-21-02</i><u class="n" style="top:32.78px">TYPE B1</u></div><div class="c tA2" style="left:474.0px;top:2115.8px;width:147px;height:59.0px"><i style="top:11.98px">B-21-03</i><u class="" style="top:32.78px">TYPE A2</u></div><div class="c tC" style="left:624.0px;top:2115.8px;width:97px;height:59.0px"><i style="top:11.98px">B-21-03A</i><u class="" style="top:32.78px">TYPE C</u></div><div class="c tC" style="left:724.0px;top:2115.8px;width:97px;height:59.0px"><i style="top:11.98px">B-21-05</i><u class="" style="top:32.78px">TYPE C</u></div><div class="c tB1" style="left:824.0px;top:2115.8px;width:147px;height:59.0px"><i style="top:11.98px">B-21-06</i><u class="n" style="top:32.78px">TYPE B1</u></div><div class="c tA2" style="left:974.0px;top:2115.8px;width:147px;height:59.0px"><i style="top:11.98px">B-21-07</i><u class="" style="top:32.78px">TYPE A2</u></div><div class="c tD" style="left:1124.0px;top:2115.8px;width:97px;height:59.0px"><i style="top:11.98px">B-21-08</i><u class="" style="top:32.78px">TYPE D</u></div><div class="c tD" style="left:224.0px;top:2178.2px;width:97px;height:59.7px"><i style="top:12.33px">B-20-01</i><u class="" style="top:33.13px">TYPE D</u></div><div class="c tB1" style="left:324.0px;top:2178.2px;width:147px;height:59.7px"><i style="top:12.33px">B-20-02</i><u class="n" style="top:33.13px">TYPE B1</u></div><div class="c tA2" style="left:474.0px;top:2178.2px;width:147px;height:59.7px"><i style="top:12.33px">B-20-03</i><u class="" style="top:33.13px">TYPE A2</u></div><div class="c tC" style="left:624.0px;top:2178.2px;width:97px;height:59.7px"><i style="top:12.33px">B-20-03A</i><u class="" style="top:33.13px">TYPE C</u></div><div class="c tC" style="left:724.0px;top:2178.2px;width:97px;height:59.7px"><i style="top:12.33px">B-20-05</i><u class="" style="top:33.13px">TYPE C</u></div><div class="tG" style="left:824.0px;top:2178.2px;width:147px;height:59.7px"></div><div class="c tA2" style="left:974.0px;top:2178.2px;width:147px;height:59.7px"><i style="top:12.33px">B-20-06</i><u class="" style="top:33.13px">TYPE A2</u></div><div class="c tD" style="left:1124.0px;top:2178.2px;width:97px;height:59.7px"><i style="top:12.33px">B-20-07</i><u class="" style="top:33.13px">TYPE D</u></div><div class="c tD" style="left:224.0px;top:2240.3px;width:97px;height:59.2px"><i style="top:12.08px">B-19-01</i><u class="" style="top:32.88px">TYPE D</u></div><div class="c tB1" style="left:324.0px;top:2240.3px;width:147px;height:59.2px"><i style="top:12.08px">B-19-02</i><u class="n" style="top:32.88px">TYPE B1</u></div><div class="c tA2" style="left:474.0px;top:2240.3px;width:147px;height:59.2px"><i style="top:12.08px">B-19-03</i><u class="" style="top:32.88px">TYPE A2</u></div><div class="c tC" style="left:624.0px;top:2240.3px;width:97px;height:59.2px"><i style="top:12.08px">B-19-03A</i><u class="" style="top:32.88px">TYPE C</u></div><div class="c tC" style="left:724.0px;top:2240.3px;width:97px;height:59.2px"><i style="top:12.08px">B-19-05</i><u class="" style="top:32.88px">TYPE C</u></div><div class="tG" style="left:824.0px;top:2240.3px;width:147px;height:59.2px"></div><div class="c tA2" style="left:974.0px;top:2240.3px;width:147px;height:59.2px"><i style="top:12.08px">B-19-06</i><u class="" style="top:32.88px">TYPE A2</u></div><div class="c tD" style="left:1124.0px;top:2240.3px;width:97px;height:59.2px"><i style="top:12.08px">B-19-07</i><u class="" style="top:32.88px">TYPE D</u></div><div class="c tD" style="left:224.0px;top:2303.2px;width:97px;height:58.5px"><i style="top:11.73px">B-18-01</i><u class="" style="top:32.53px">TYPE D</u></div><div class="c tB1" style="left:324.0px;top:2303.2px;width:147px;height:58.5px"><i style="top:11.73px">B-18-02</i><u class="n" style="top:32.53px">TYPE B1</u></div><div class="c tA2" style="left:474.0px;top:2303.2px;width:147px;height:58.5px"><i style="top:11.73px">B-18-03</i><u class="" style="top:32.53px">TYPE A2</u></div><div class="c tC" style="left:624.0px;top:2303.2px;width:97px;height:58.5px"><i style="top:11.73px">B-18-03A</i><u class="" style="top:32.53px">TYPE C</u></div><div class="c tC" style="left:724.0px;top:2303.2px;width:97px;height:58.5px"><i style="top:11.73px">B-18-05</i><u class="" style="top:32.53px">TYPE C</u></div><div class="c tB1" style="left:824.0px;top:2303.2px;width:147px;height:58.5px"><i style="top:11.73px">B-18-06</i><u class="n" style="top:32.53px">TYPE B1</u></div><div class="c tA2" style="left:974.0px;top:2303.2px;width:147px;height:58.5px"><i style="top:11.73px">B-18-07</i><u class="" style="top:32.53px">TYPE A2</u></div><div class="c tD" style="left:1124.0px;top:2303.2px;width:97px;height:58.5px"><i style="top:11.73px">B-18-08</i><u class="" style="top:32.53px">TYPE D</u></div><div class="c tD" style="left:224.0px;top:2365.3px;width:97px;height:59.4px"><i style="top:12.18px">B-17-01</i><u class="" style="top:32.98px">TYPE D</u></div><div class="c tB" style="left:324.0px;top:2365.3px;width:97px;height:59.4px"><i style="top:12.18px">B-17-02</i><u class="" style="top:32.98px">TYPE B</u></div><div class="c tA1" style="left:524.0px;top:2365.3px;width:97px;height:59.4px"><i style="top:12.18px">B-17-03</i><u class="n" style="top:32.98px">TYPE A1</u></div><div class="c tC" style="left:624.0px;top:2365.3px;width:97px;height:59.4px"><i style="top:12.18px">B-17-03A</i><u class="" style="top:32.98px">TYPE C</u></div><div class="c tC" style="left:724.0px;top:2365.3px;width:97px;height:59.4px"><i style="top:12.18px">B-17-05</i><u class="" style="top:32.98px">TYPE C</u></div><div class="c tB" style="left:824.0px;top:2365.3px;width:97px;height:59.4px"><i style="top:12.18px">B-17-06</i><u class="" style="top:32.98px">TYPE B</u></div><div class="c tA1" style="left:1024.0px;top:2365.3px;width:97px;height:59.4px"><i style="top:12.18px">B-17-07</i><u class="n" style="top:32.98px">TYPE A1</u></div><div class="c tD" style="left:1124.0px;top:2365.3px;width:97px;height:59.4px"><i style="top:12.18px">B-17-08</i><u class="" style="top:32.98px">TYPE D</u></div><div style="left:424.0px;top:2425.1px;width:97.4px;height:1.9px;background:#bcbcbc"></div><div style="left:924.0px;top:2425.1px;width:97.4px;height:1.9px;background:#bcbcbc"></div><div class="c tD" style="left:224.0px;top:2427.2px;width:97px;height:61.3px"><i style="top:13.13px">B-16-01</i><u class="" style="top:33.93px">TYPE D</u></div><div class="c tB" style="left:324.0px;top:2427.2px;width:97px;height:61.3px"><i style="top:13.13px">B-16-02</i><u class="" style="top:33.93px">TYPE B</u></div><div class="c tA1" style="left:524.0px;top:2427.2px;width:97px;height:61.3px"><i style="top:13.13px">B-16-03</i><u class="n" style="top:33.93px">TYPE A1</u></div><div class="c tC" style="left:624.0px;top:2427.2px;width:97px;height:61.3px"><i style="top:13.13px">B-16-03A</i><u class="" style="top:33.93px">TYPE C</u></div><div class="c tC" style="left:724.0px;top:2427.2px;width:97px;height:61.3px"><i style="top:13.13px">B-16-05</i><u class="" style="top:33.93px">TYPE C</u></div><div class="c tB" style="left:824.0px;top:2427.2px;width:97px;height:61.3px"><i style="top:13.13px">B-16-06</i><u class="" style="top:33.93px">TYPE B</u></div><div class="c tA1" style="left:1024.0px;top:2427.2px;width:97px;height:61.3px"><i style="top:13.13px">B-16-07</i><u class="n" style="top:33.93px">TYPE A1</u></div><div class="c tD" style="left:1124.0px;top:2427.2px;width:97px;height:61.3px"><i style="top:13.13px">B-16-08</i><u class="" style="top:33.93px">TYPE D</u></div><div class="c tD" style="left:224.0px;top:2492.1px;width:97px;height:59.7px"><i style="top:12.33px">B-15-01</i><u class="" style="top:33.13px">TYPE D</u></div><div class="c tB2" style="left:324.0px;top:2492.1px;width:147px;height:59.7px"><i style="top:12.33px">B-15-02</i><u class="" style="top:33.13px">TYPE B2</u></div><div class="c tA3" style="left:474.0px;top:2492.1px;width:147px;height:59.7px"><i style="top:12.33px">B-15-03</i><u class="" style="top:33.13px">TYPE A3</u></div><div class="c tC" style="left:624.0px;top:2492.1px;width:97px;height:59.7px"><i style="top:12.33px">B-15-03A</i><u class="" style="top:33.13px">TYPE C</u></div><div class="c tC" style="left:724.0px;top:2492.1px;width:97px;height:59.7px"><i style="top:12.33px">B-15-05</i><u class="" style="top:33.13px">TYPE C</u></div><div class="c tB2" style="left:824.0px;top:2492.1px;width:147px;height:59.7px"><i style="top:12.33px">B-15-06</i><u class="" style="top:33.13px">TYPE B2</u></div><div class="c tA3" style="left:974.0px;top:2492.1px;width:147px;height:59.7px"><i style="top:12.33px">B-15-07</i><u class="" style="top:33.13px">TYPE A3</u></div><div class="c tD" style="left:1124.0px;top:2492.1px;width:97px;height:59.7px"><i style="top:12.33px">B-15-08</i><u class="" style="top:33.13px">TYPE D</u></div><div class="c tD" style="left:224.0px;top:2554.2px;width:97px;height:59.4px"><i style="top:12.18px">B-13A-01</i><u class="" style="top:32.98px">TYPE D</u></div><div class="c tB" style="left:324.0px;top:2554.2px;width:97px;height:59.4px"><i style="top:12.18px">B-13A-02</i><u class="" style="top:32.98px">TYPE B</u></div><div class="c tA" style="left:424.0px;top:2554.2px;width:97px;height:59.4px"><i style="top:12.18px">B-13A-03</i><u class="" style="top:32.98px">TYPE A</u></div><div class="c tA" style="left:524.0px;top:2554.2px;width:97px;height:59.4px"><i style="top:12.18px">B-13A-03A</i><u class="" style="top:32.98px">TYPE A</u></div><div class="c tC" style="left:624.0px;top:2554.2px;width:97px;height:59.4px"><i style="top:12.18px">B-13A-05</i><u class="" style="top:32.98px">TYPE C</u></div><div class="c tC" style="left:724.0px;top:2554.2px;width:97px;height:59.4px"><i style="top:12.18px">B-13A-06</i><u class="" style="top:32.98px">TYPE C</u></div><div class="c tB" style="left:824.0px;top:2554.2px;width:97px;height:59.4px"><i style="top:12.18px">B-13A-07</i><u class="" style="top:32.98px">TYPE B</u></div><div class="c tA" style="left:924.0px;top:2554.2px;width:97px;height:59.4px"><i style="top:12.18px">B-13A-08</i><u class="" style="top:32.98px">TYPE A</u></div><div class="c tA" style="left:1024.0px;top:2554.2px;width:97px;height:59.4px"><i style="top:12.18px">B-13A-09</i><u class="" style="top:32.98px">TYPE A</u></div><div class="c tD" style="left:1124.0px;top:2554.2px;width:97px;height:59.4px"><i style="top:12.18px">B-13A-10</i><u class="" style="top:32.98px">TYPE D</u></div><div class="c tD" style="left:224.0px;top:2616.7px;width:97px;height:59.0px"><i style="top:11.98px">B-13-01</i><u class="" style="top:32.78px">TYPE D</u></div><div class="c tB" style="left:324.0px;top:2616.7px;width:97px;height:59.0px"><i style="top:11.98px">B-13-02</i><u class="" style="top:32.78px">TYPE B</u></div><div class="c tA" style="left:424.0px;top:2616.7px;width:97px;height:59.0px"><i style="top:11.98px">B-13-03</i><u class="" style="top:32.78px">TYPE A</u></div><div class="c tA" style="left:524.0px;top:2616.7px;width:97px;height:59.0px"><i style="top:11.98px">B-13-03A</i><u class="" style="top:32.78px">TYPE A</u></div><div class="c tC" style="left:624.0px;top:2616.7px;width:97px;height:59.0px"><i style="top:11.98px">B-13-05</i><u class="" style="top:32.78px">TYPE C</u></div><div class="c tC" style="left:724.0px;top:2616.7px;width:97px;height:59.0px"><i style="top:11.98px">B-13-06</i><u class="" style="top:32.78px">TYPE C</u></div><div class="c tB" style="left:824.0px;top:2616.7px;width:97px;height:59.0px"><i style="top:11.98px">B-13-07</i><u class="" style="top:32.78px">TYPE B</u></div><div class="c tA" style="left:924.0px;top:2616.7px;width:97px;height:59.0px"><i style="top:11.98px">B-13-08</i><u class="" style="top:32.78px">TYPE A</u></div><div class="c tA" style="left:1024.0px;top:2616.7px;width:97px;height:59.0px"><i style="top:11.98px">B-13-09</i><u class="" style="top:32.78px">TYPE A</u></div><div class="c tD" style="left:1124.0px;top:2616.7px;width:97px;height:59.0px"><i style="top:11.98px">B-13-10</i><u class="" style="top:32.78px">TYPE D</u></div><div class="c tD" style="left:224.0px;top:2679.2px;width:97px;height:59.7px"><i style="top:12.33px">B-12-01</i><u class="" style="top:33.13px">TYPE D</u></div><div class="c tB" style="left:324.0px;top:2679.2px;width:97px;height:59.7px"><i style="top:12.33px">B-12-02</i><u class="" style="top:33.13px">TYPE B</u></div><div class="c tA" style="left:424.0px;top:2679.2px;width:97px;height:59.7px"><i style="top:12.33px">B-12-03</i><u class="" style="top:33.13px">TYPE A</u></div><div class="c tA" style="left:524.0px;top:2679.2px;width:97px;height:59.7px"><i style="top:12.33px">B-12-03A</i><u class="" style="top:33.13px">TYPE A</u></div><div class="c tC" style="left:624.0px;top:2679.2px;width:97px;height:59.7px"><i style="top:12.33px">B-12-05</i><u class="" style="top:33.13px">TYPE C</u></div><div class="c tC" style="left:724.0px;top:2679.2px;width:97px;height:59.7px"><i style="top:12.33px">B-12-06</i><u class="" style="top:33.13px">TYPE C</u></div><div class="c tB" style="left:824.0px;top:2679.2px;width:97px;height:59.7px"><i style="top:12.33px">B-12-07</i><u class="" style="top:33.13px">TYPE B</u></div><div class="c tA" style="left:924.0px;top:2679.2px;width:97px;height:59.7px"><i style="top:12.33px">B-12-08</i><u class="" style="top:33.13px">TYPE A</u></div><div class="c tA" style="left:1024.0px;top:2679.2px;width:97px;height:59.7px"><i style="top:12.33px">B-12-09</i><u class="" style="top:33.13px">TYPE A</u></div><div class="c tD" style="left:1124.0px;top:2679.2px;width:97px;height:59.7px"><i style="top:12.33px">B-12-10</i><u class="" style="top:33.13px">TYPE D</u></div><div class="c tD" style="left:224.0px;top:2742.1px;width:97px;height:58.5px"><i style="top:11.73px">B-11-01</i><u class="" style="top:32.53px">TYPE D</u></div><div class="c tB" style="left:324.0px;top:2742.1px;width:97px;height:58.5px"><i style="top:11.73px">B-11-02</i><u class="" style="top:32.53px">TYPE B</u></div><div class="c tA" style="left:424.0px;top:2742.1px;width:97px;height:58.5px"><i style="top:11.73px">B-11-03</i><u class="" style="top:32.53px">TYPE A</u></div><div class="c tA" style="left:524.0px;top:2742.1px;width:97px;height:58.5px"><i style="top:11.73px">B-11-03A</i><u class="" style="top:32.53px">TYPE A</u></div><div class="c tC" style="left:624.0px;top:2742.1px;width:97px;height:58.5px"><i style="top:11.73px">B-11-05</i><u class="" style="top:32.53px">TYPE C</u></div><div class="c tC" style="left:724.0px;top:2742.1px;width:97px;height:58.5px"><i style="top:11.73px">B-11-06</i><u class="" style="top:32.53px">TYPE C</u></div><div class="c tB" style="left:824.0px;top:2742.1px;width:97px;height:58.5px"><i style="top:11.73px">B-11-07</i><u class="" style="top:32.53px">TYPE B</u></div><div class="c tA" style="left:924.0px;top:2742.1px;width:97px;height:58.5px"><i style="top:11.73px">B-11-08</i><u class="" style="top:32.53px">TYPE A</u></div><div class="c tA" style="left:1024.0px;top:2742.1px;width:97px;height:58.5px"><i style="top:11.73px">B-11-09</i><u class="" style="top:32.53px">TYPE A</u></div><div class="c tD" style="left:1124.0px;top:2742.1px;width:97px;height:58.5px"><i style="top:11.73px">B-11-10</i><u class="" style="top:32.53px">TYPE D</u></div><div class="c tD" style="left:224.0px;top:2804.2px;width:97px;height:59.6px"><i style="top:12.28px">B-10-01</i><u class="" style="top:33.08px">TYPE D</u></div><div class="c tB" style="left:324.0px;top:2804.2px;width:97px;height:59.6px"><i style="top:12.28px">B-10-02</i><u class="" style="top:33.08px">TYPE B</u></div><div class="c tA" style="left:424.0px;top:2804.2px;width:97px;height:59.6px"><i style="top:12.28px">B-10-03</i><u class="" style="top:33.08px">TYPE A</u></div><div class="c tA" style="left:524.0px;top:2804.2px;width:97px;height:59.6px"><i style="top:12.28px">B-10-03A</i><u class="" style="top:33.08px">TYPE A</u></div><div class="c tC" style="left:624.0px;top:2804.2px;width:97px;height:59.6px"><i style="top:12.28px">B-10-05</i><u class="" style="top:33.08px">TYPE C</u></div><div class="c tC" style="left:724.0px;top:2804.2px;width:97px;height:59.6px"><i style="top:12.28px">B-10-06</i><u class="" style="top:33.08px">TYPE C</u></div><div class="c tB" style="left:824.0px;top:2804.2px;width:97px;height:59.6px"><i style="top:12.28px">B-10-07</i><u class="" style="top:33.08px">TYPE B</u></div><div class="c tA" style="left:924.0px;top:2804.2px;width:97px;height:59.6px"><i style="top:12.28px">B-10-08</i><u class="" style="top:33.08px">TYPE A</u></div><div class="c tA" style="left:1024.0px;top:2804.2px;width:97px;height:59.6px"><i style="top:12.28px">B-10-09</i><u class="" style="top:33.08px">TYPE A</u></div><div class="c tD" style="left:1124.0px;top:2804.2px;width:97px;height:59.6px"><i style="top:12.28px">B-10-10</i><u class="" style="top:33.08px">TYPE D</u></div><div class="c tD" style="left:224.0px;top:2866.4px;width:97px;height:59.2px"><i style="top:12.08px">B-09-01</i><u class="" style="top:32.88px">TYPE D</u></div><div class="c tB" style="left:324.0px;top:2866.4px;width:97px;height:59.2px"><i style="top:12.08px">B-09-02</i><u class="" style="top:32.88px">TYPE B</u></div><div class="c tA" style="left:424.0px;top:2866.4px;width:97px;height:59.2px"><i style="top:12.08px">B-09-03</i><u class="" style="top:32.88px">TYPE A</u></div><div class="c tA" style="left:524.0px;top:2866.4px;width:97px;height:59.2px"><i style="top:12.08px">B-09-03A</i><u class="" style="top:32.88px">TYPE A</u></div><div class="c tC" style="left:624.0px;top:2866.4px;width:97px;height:59.2px"><i style="top:12.08px">B-09-05</i><u class="" style="top:32.88px">TYPE C</u></div><div class="c tC" style="left:724.0px;top:2866.4px;width:97px;height:59.2px"><i style="top:12.08px">B-09-06</i><u class="" style="top:32.88px">TYPE C</u></div><div class="c tB" style="left:824.0px;top:2866.4px;width:97px;height:59.2px"><i style="top:12.08px">B-09-07</i><u class="" style="top:32.88px">TYPE B</u></div><div class="c tA" style="left:924.0px;top:2866.4px;width:97px;height:59.2px"><i style="top:12.08px">B-09-08</i><u class="" style="top:32.88px">TYPE A</u></div><div class="c tA" style="left:1024.0px;top:2866.4px;width:97px;height:59.2px"><i style="top:12.08px">B-09-09</i><u class="" style="top:32.88px">TYPE A</u></div><div class="c tD" style="left:1124.0px;top:2866.4px;width:97px;height:59.2px"><i style="top:12.08px">B-09-10</i><u class="" style="top:32.88px">TYPE D</u></div><div class="c tD" style="left:224.0px;top:2929.2px;width:97px;height:58.2px"><i style="top:11.58px">B-08-01</i><u class="" style="top:32.38px">TYPE D</u></div><div class="c tB" style="left:324.0px;top:2929.2px;width:97px;height:58.2px"><i style="top:11.58px">B-08-02</i><u class="" style="top:32.38px">TYPE B</u></div><div class="c tA" style="left:424.0px;top:2929.2px;width:97px;height:58.2px"><i style="top:11.58px">B-08-03</i><u class="" style="top:32.38px">TYPE A</u></div><div class="c tA" style="left:524.0px;top:2929.2px;width:97px;height:58.2px"><i style="top:11.58px">B-08-03A</i><u class="" style="top:32.38px">TYPE A</u></div><div class="c tC" style="left:624.0px;top:2929.2px;width:97px;height:58.2px"><i style="top:11.58px">B-08-05</i><u class="" style="top:32.38px">TYPE C</u></div><div class="c tC" style="left:724.0px;top:2929.2px;width:97px;height:58.2px"><i style="top:11.58px">B-08-06</i><u class="" style="top:32.38px">TYPE C</u></div><div class="c tB" style="left:824.0px;top:2929.2px;width:97px;height:58.2px"><i style="top:11.58px">B-08-07</i><u class="" style="top:32.38px">TYPE B</u></div><div class="c tA" style="left:924.0px;top:2929.2px;width:97px;height:58.2px"><i style="top:11.58px">B-08-08</i><u class="" style="top:32.38px">TYPE A</u></div><div class="c tA" style="left:1024.0px;top:2929.2px;width:97px;height:58.2px"><i style="top:11.58px">B-08-09</i><u class="" style="top:32.38px">TYPE A</u></div><div class="c tD" style="left:1124.0px;top:2929.2px;width:97px;height:58.2px"><i style="top:11.58px">B-08-10</i><u class="" style="top:32.38px">TYPE D</u></div><div class="c tC" style="left:1334.0px;top:743.1px;width:97px;height:60.5px"><i style="top:12.73px">A-43-01</i><u class="" style="top:33.53px">TYPE C</u></div><div class="c tB1" style="left:1434.0px;top:743.1px;width:147px;height:60.5px"><i style="top:12.73px">A-43-02</i><u class="n" style="top:33.53px">TYPE B1</u></div><div class="c tA2" style="left:1584.0px;top:743.1px;width:147px;height:60.5px"><i style="top:12.73px">A-43-03</i><u class="" style="top:33.53px">TYPE A2</u></div><div class="c tD" style="left:1734.0px;top:743.1px;width:97px;height:60.5px"><i style="top:12.73px">A-43-03A</i><u class="" style="top:33.53px">TYPE D</u></div><div class="c tD" style="left:1834.0px;top:743.1px;width:97px;height:60.5px"><i style="top:12.73px">A-43-05</i><u class="" style="top:33.53px">TYPE D</u></div><div class="c tB1" style="left:1934.0px;top:743.1px;width:147px;height:60.5px"><i style="top:12.73px">A-43-06</i><u class="n" style="top:33.53px">TYPE B1</u></div><div class="c tA2" style="left:2084.0px;top:743.1px;width:147px;height:60.5px"><i style="top:12.73px">A-43-07</i><u class="" style="top:33.53px">TYPE A2</u></div><div class="c tC" style="left:2234.0px;top:743.1px;width:97px;height:60.5px"><i style="top:12.73px">A-43-08</i><u class="" style="top:33.53px">TYPE C</u></div><div class="c tC" style="left:1334.0px;top:807.0px;width:97px;height:58.7px"><i style="top:11.83px">A-42-01</i><u class="" style="top:32.63px">TYPE C</u></div><div class="c tB1" style="left:1434.0px;top:807.0px;width:147px;height:58.7px"><i style="top:11.83px">A-42-02</i><u class="n" style="top:32.63px">TYPE B1</u></div><div class="c tA2" style="left:1584.0px;top:807.0px;width:147px;height:58.7px"><i style="top:11.83px">A-42-03</i><u class="" style="top:32.63px">TYPE A2</u></div><div class="c tD" style="left:1734.0px;top:807.0px;width:97px;height:58.7px"><i style="top:11.83px">A-42-03A</i><u class="" style="top:32.63px">TYPE D</u></div><div class="c tD" style="left:1834.0px;top:807.0px;width:97px;height:58.7px"><i style="top:11.83px">A-42-05</i><u class="" style="top:32.63px">TYPE D</u></div><div class="c tB1" style="left:1934.0px;top:807.0px;width:147px;height:58.7px"><i style="top:11.83px">A-42-06</i><u class="n" style="top:32.63px">TYPE B1</u></div><div class="c tA2" style="left:2084.0px;top:807.0px;width:147px;height:58.7px"><i style="top:11.83px">A-42-07</i><u class="" style="top:32.63px">TYPE A2</u></div><div class="c tC" style="left:2234.0px;top:807.0px;width:97px;height:58.7px"><i style="top:11.83px">A-42-08</i><u class="" style="top:32.63px">TYPE C</u></div><div class="c tC" style="left:1334.0px;top:869.2px;width:97px;height:59.7px"><i style="top:12.33px">A-41-01</i><u class="" style="top:33.13px">TYPE C</u></div><div class="c tB" style="left:1434.0px;top:869.2px;width:97px;height:59.7px"><i style="top:12.33px">A-41-02</i><u class="" style="top:33.13px">TYPE B</u></div><div class="c tA1" style="left:1634.0px;top:869.2px;width:97px;height:59.7px"><i style="top:12.33px">A-41-03</i><u class="n" style="top:33.13px">TYPE A1</u></div><div class="c tD" style="left:1734.0px;top:869.2px;width:97px;height:59.7px"><i style="top:12.33px">A-41-03A</i><u class="" style="top:33.13px">TYPE D</u></div><div class="c tD" style="left:1834.0px;top:869.2px;width:97px;height:59.7px"><i style="top:12.33px">A-41-05</i><u class="" style="top:33.13px">TYPE D</u></div><div class="c tB" style="left:1934.0px;top:869.2px;width:97px;height:59.7px"><i style="top:12.33px">A-41-06</i><u class="" style="top:33.13px">TYPE B</u></div><div class="c tA1" style="left:2134.0px;top:869.2px;width:97px;height:59.7px"><i style="top:12.33px">A-41-07</i><u class="n" style="top:33.13px">TYPE A1</u></div><div class="c tC" style="left:2234.0px;top:869.2px;width:97px;height:59.7px"><i style="top:12.33px">A-41-08</i><u class="" style="top:33.13px">TYPE C</u></div><div style="left:1534.0px;top:929.3px;width:97.4px;height:1.9px;background:#bcbcbc"></div><div style="left:2034.0px;top:929.3px;width:97.4px;height:1.9px;background:#bcbcbc"></div><div class="c tC" style="left:1334.0px;top:932.4px;width:97px;height:59.0px"><i style="top:11.98px">A-40-01</i><u class="" style="top:32.78px">TYPE C</u></div><div class="c tB" style="left:1434.0px;top:932.4px;width:97px;height:59.0px"><i style="top:11.98px">A-40-02</i><u class="" style="top:32.78px">TYPE B</u></div><div class="c tA1" style="left:1634.0px;top:932.4px;width:97px;height:59.0px"><i style="top:11.98px">A-40-03</i><u class="n" style="top:32.78px">TYPE A1</u></div><div class="c tD" style="left:1734.0px;top:932.4px;width:97px;height:59.0px"><i style="top:11.98px">A-40-03A</i><u class="" style="top:32.78px">TYPE D</u></div><div class="c tD" style="left:1834.0px;top:932.4px;width:97px;height:59.0px"><i style="top:11.98px">A-40-05</i><u class="" style="top:32.78px">TYPE D</u></div><div class="c tB" style="left:1934.0px;top:932.4px;width:97px;height:59.0px"><i style="top:11.98px">A-40-06</i><u class="" style="top:32.78px">TYPE B</u></div><div class="c tA1" style="left:2134.0px;top:932.4px;width:97px;height:59.0px"><i style="top:11.98px">A-40-07</i><u class="n" style="top:32.78px">TYPE A1</u></div><div class="c tC" style="left:2234.0px;top:932.4px;width:97px;height:59.0px"><i style="top:11.98px">A-40-08</i><u class="" style="top:32.78px">TYPE C</u></div><div class="c tC" style="left:1334.0px;top:994.1px;width:97px;height:59.7px"><i style="top:12.33px">A-39-01</i><u class="" style="top:33.13px">TYPE C</u></div><div class="c tB2" style="left:1434.0px;top:994.1px;width:147px;height:59.7px"><i style="top:12.33px">A-39-02</i><u class="" style="top:33.13px">TYPE B2</u></div><div class="c tA3" style="left:1584.0px;top:994.1px;width:147px;height:59.7px"><i style="top:12.33px">A-39-03</i><u class="" style="top:33.13px">TYPE A3</u></div><div class="c tD" style="left:1734.0px;top:994.1px;width:97px;height:59.7px"><i style="top:12.33px">A-39-03A</i><u class="" style="top:33.13px">TYPE D</u></div><div class="c tD" style="left:1834.0px;top:994.1px;width:97px;height:59.7px"><i style="top:12.33px">A-39-05</i><u class="" style="top:33.13px">TYPE D</u></div><div class="c tB2" style="left:1934.0px;top:994.1px;width:147px;height:59.7px"><i style="top:12.33px">A-39-06</i><u class="" style="top:33.13px">TYPE B2</u></div><div class="c tA3" style="left:2084.0px;top:994.1px;width:147px;height:59.7px"><i style="top:12.33px">A-39-07</i><u class="" style="top:33.13px">TYPE A3</u></div><div class="c tC" style="left:2234.0px;top:994.1px;width:97px;height:59.7px"><i style="top:12.33px">A-39-08</i><u class="" style="top:33.13px">TYPE C</u></div><div class="c tC" style="left:1334.0px;top:1056.0px;width:97px;height:59.8px"><i style="top:12.38px">A-38-01</i><u class="" style="top:33.18px">TYPE C</u></div><div class="c tB1" style="left:1434.0px;top:1056.0px;width:147px;height:59.8px"><i style="top:12.38px">A-38-02</i><u class="n" style="top:33.18px">TYPE B1</u></div><div class="c tA2" style="left:1584.0px;top:1056.0px;width:147px;height:59.8px"><i style="top:12.38px">A-38-03</i><u class="" style="top:33.18px">TYPE A2</u></div><div class="c tD" style="left:1734.0px;top:1056.0px;width:97px;height:59.8px"><i style="top:12.38px">A-38-03A</i><u class="" style="top:33.18px">TYPE D</u></div><div class="c tD" style="left:1834.0px;top:1056.0px;width:97px;height:59.8px"><i style="top:12.38px">A-38-05</i><u class="" style="top:33.18px">TYPE D</u></div><div class="c tB1" style="left:1934.0px;top:1056.0px;width:147px;height:59.8px"><i style="top:12.38px">A-38-06</i><u class="n" style="top:33.18px">TYPE B1</u></div><div class="c tA2" style="left:2084.0px;top:1056.0px;width:147px;height:59.8px"><i style="top:12.38px">A-38-07</i><u class="" style="top:33.18px">TYPE A2</u></div><div class="c tC" style="left:2234.0px;top:1056.0px;width:97px;height:59.8px"><i style="top:12.38px">A-38-08</i><u class="" style="top:33.18px">TYPE C</u></div><div class="c tC" style="left:1334.0px;top:1119.3px;width:97px;height:58.2px"><i style="top:11.58px">A-37-01</i><u class="" style="top:32.38px">TYPE C</u></div><div class="c tB1" style="left:1434.0px;top:1119.3px;width:147px;height:58.2px"><i style="top:11.58px">A-37-02</i><u class="n" style="top:32.38px">TYPE B1</u></div><div class="c tA2" style="left:1584.0px;top:1119.3px;width:147px;height:58.2px"><i style="top:11.58px">A-37-03</i><u class="" style="top:32.38px">TYPE A2</u></div><div class="c tD" style="left:1734.0px;top:1119.3px;width:97px;height:58.2px"><i style="top:11.58px">A-37-03A</i><u class="" style="top:32.38px">TYPE D</u></div><div class="c tD" style="left:1834.0px;top:1119.3px;width:97px;height:58.2px"><i style="top:11.58px">A-37-05</i><u class="" style="top:32.38px">TYPE D</u></div><div class="c tB1" style="left:1934.0px;top:1119.3px;width:147px;height:58.2px"><i style="top:11.58px">A-37-06</i><u class="n" style="top:32.38px">TYPE B1</u></div><div class="c tA2" style="left:2084.0px;top:1119.3px;width:147px;height:58.2px"><i style="top:11.58px">A-37-07</i><u class="" style="top:32.38px">TYPE A2</u></div><div class="c tC" style="left:2234.0px;top:1119.3px;width:97px;height:58.2px"><i style="top:11.58px">A-37-08</i><u class="" style="top:32.38px">TYPE C</u></div><div class="c tC" style="left:1334.0px;top:1181.0px;width:97px;height:59.3px"><i style="top:12.13px">A-36-01</i><u class="" style="top:32.93px">TYPE C</u></div><div class="c tB1" style="left:1434.0px;top:1181.0px;width:147px;height:59.3px"><i style="top:12.13px">A-36-02</i><u class="n" style="top:32.93px">TYPE B1</u></div><div class="c tA2" style="left:1584.0px;top:1181.0px;width:147px;height:59.3px"><i style="top:12.13px">A-36-03</i><u class="" style="top:32.93px">TYPE A2</u></div><div class="c tD" style="left:1734.0px;top:1181.0px;width:97px;height:59.3px"><i style="top:12.13px">A-36-03A</i><u class="" style="top:32.93px">TYPE D</u></div><div class="c tD" style="left:1834.0px;top:1181.0px;width:97px;height:59.3px"><i style="top:12.13px">A-36-05</i><u class="" style="top:32.93px">TYPE D</u></div><div class="c tB1" style="left:1934.0px;top:1181.0px;width:147px;height:59.3px"><i style="top:12.13px">A-36-06</i><u class="n" style="top:32.93px">TYPE B1</u></div><div class="c tA2" style="left:2084.0px;top:1181.0px;width:147px;height:59.3px"><i style="top:12.13px">A-36-07</i><u class="" style="top:32.93px">TYPE A2</u></div><div class="c tC" style="left:2234.0px;top:1181.0px;width:97px;height:59.3px"><i style="top:12.13px">A-36-08</i><u class="" style="top:32.93px">TYPE C</u></div><div class="c tC" style="left:1334.0px;top:1243.2px;width:97px;height:59.3px"><i style="top:12.13px">A-35-01</i><u class="" style="top:32.93px">TYPE C</u></div><div class="c tB1" style="left:1434.0px;top:1243.2px;width:147px;height:59.3px"><i style="top:12.13px">A-35-02</i><u class="n" style="top:32.93px">TYPE B1</u></div><div class="c tA2" style="left:1584.0px;top:1243.2px;width:147px;height:59.3px"><i style="top:12.13px">A-35-03</i><u class="" style="top:32.93px">TYPE A2</u></div><div class="c tD" style="left:1734.0px;top:1243.2px;width:97px;height:59.3px"><i style="top:12.13px">A-35-03A</i><u class="" style="top:32.93px">TYPE D</u></div><div class="c tD" style="left:1834.0px;top:1243.2px;width:97px;height:59.3px"><i style="top:12.13px">A-35-05</i><u class="" style="top:32.93px">TYPE D</u></div><div class="c tB1" style="left:1934.0px;top:1243.2px;width:147px;height:59.3px"><i style="top:12.13px">A-35-06</i><u class="n" style="top:32.93px">TYPE B1</u></div><div class="c tA2" style="left:2084.0px;top:1243.2px;width:147px;height:59.3px"><i style="top:12.13px">A-35-07</i><u class="" style="top:32.93px">TYPE A2</u></div><div class="c tC" style="left:2234.0px;top:1243.2px;width:97px;height:59.3px"><i style="top:12.13px">A-35-08</i><u class="" style="top:32.93px">TYPE C</u></div><div class="c tC" style="left:1334.0px;top:1306.3px;width:97px;height:58.0px"><i style="top:11.48px">A-33A-01</i><u class="" style="top:32.28px">TYPE C</u></div><div class="c tB1" style="left:1434.0px;top:1306.3px;width:147px;height:58.0px"><i style="top:11.48px">A-33A-02</i><u class="n" style="top:32.28px">TYPE B1</u></div><div class="c tA2" style="left:1584.0px;top:1306.3px;width:147px;height:58.0px"><i style="top:11.48px">A-33A-03</i><u class="" style="top:32.28px">TYPE A2</u></div><div class="c tD" style="left:1734.0px;top:1306.3px;width:97px;height:58.0px"><i style="top:11.48px">A-33A-03A</i><u class="" style="top:32.28px">TYPE D</u></div><div class="c tD" style="left:1834.0px;top:1306.3px;width:97px;height:58.0px"><i style="top:11.48px">A-33A-05</i><u class="" style="top:32.28px">TYPE D</u></div><div class="c tB1" style="left:1934.0px;top:1306.3px;width:147px;height:58.0px"><i style="top:11.48px">A-33A-06</i><u class="n" style="top:32.28px">TYPE B1</u></div><div class="c tA2" style="left:2084.0px;top:1306.3px;width:147px;height:58.0px"><i style="top:11.48px">A-33A-07</i><u class="" style="top:32.28px">TYPE A2</u></div><div class="c tC" style="left:2234.0px;top:1306.3px;width:97px;height:58.0px"><i style="top:11.48px">A-33A-08</i><u class="" style="top:32.28px">TYPE C</u></div><div class="c tC" style="left:1334.0px;top:1368.2px;width:97px;height:59.7px"><i style="top:12.33px">A-33-01</i><u class="" style="top:33.13px">TYPE C</u></div><div class="c tB" style="left:1434.0px;top:1368.2px;width:97px;height:59.7px"><i style="top:12.33px">A-33-02</i><u class="" style="top:33.13px">TYPE B</u></div><div class="c tA1" style="left:1634.0px;top:1368.2px;width:97px;height:59.7px"><i style="top:12.33px">A-33-03</i><u class="n" style="top:33.13px">TYPE A1</u></div><div class="c tD" style="left:1734.0px;top:1368.2px;width:97px;height:59.7px"><i style="top:12.33px">A-33-03A</i><u class="" style="top:33.13px">TYPE D</u></div><div class="c tD" style="left:1834.0px;top:1368.2px;width:97px;height:59.7px"><i style="top:12.33px">A-33-05</i><u class="" style="top:33.13px">TYPE D</u></div><div class="c tB" style="left:1934.0px;top:1368.2px;width:97px;height:59.7px"><i style="top:12.33px">A-33-06</i><u class="" style="top:33.13px">TYPE B</u></div><div class="c tA1" style="left:2134.0px;top:1368.2px;width:97px;height:59.7px"><i style="top:12.33px">A-33-07</i><u class="n" style="top:33.13px">TYPE A1</u></div><div class="c tC" style="left:2234.0px;top:1368.2px;width:97px;height:59.7px"><i style="top:12.33px">A-33-08</i><u class="" style="top:33.13px">TYPE C</u></div><div style="left:1534.0px;top:1428.3px;width:97.4px;height:1.9px;background:#bcbcbc"></div><div style="left:2034.0px;top:1428.3px;width:97.4px;height:1.9px;background:#bcbcbc"></div><div class="c tC" style="left:1334.0px;top:1431.0px;width:97px;height:63.2px"><i style="top:14.08px">A-32-01</i><u class="" style="top:34.88px">TYPE C</u></div><div class="c tB" style="left:1434.0px;top:1431.0px;width:97px;height:63.2px"><i style="top:14.08px">A-32-02</i><u class="" style="top:34.88px">TYPE B</u></div><div class="c tA1" style="left:1634.0px;top:1431.0px;width:97px;height:63.2px"><i style="top:14.08px">A-32-03</i><u class="n" style="top:34.88px">TYPE A1</u></div><div class="c tD" style="left:1734.0px;top:1431.0px;width:97px;height:63.2px"><i style="top:14.08px">A-32-03A</i><u class="" style="top:34.88px">TYPE D</u></div><div class="c tD" style="left:1834.0px;top:1431.0px;width:97px;height:63.2px"><i style="top:14.08px">A-32-05</i><u class="" style="top:34.88px">TYPE D</u></div><div class="c tB" style="left:1934.0px;top:1431.0px;width:97px;height:63.2px"><i style="top:14.08px">A-32-06</i><u class="" style="top:34.88px">TYPE B</u></div><div class="c tA1" style="left:2134.0px;top:1431.0px;width:97px;height:63.2px"><i style="top:14.08px">A-32-07</i><u class="n" style="top:34.88px">TYPE A1</u></div><div class="c tC" style="left:2234.0px;top:1431.0px;width:97px;height:63.2px"><i style="top:14.08px">A-32-08</i><u class="" style="top:34.88px">TYPE C</u></div><div class="c tC" style="left:1334.0px;top:1497.0px;width:97px;height:59.7px"><i style="top:12.33px">A-31-01</i><u class="" style="top:33.13px">TYPE C</u></div><div class="c tB2" style="left:1434.0px;top:1497.0px;width:147px;height:59.7px"><i style="top:12.33px">A-31-02</i><u class="" style="top:33.13px">TYPE B2</u></div><div class="c tA3" style="left:1584.0px;top:1497.0px;width:147px;height:59.7px"><i style="top:12.33px">A-31-03</i><u class="" style="top:33.13px">TYPE A3</u></div><div class="c tD" style="left:1734.0px;top:1497.0px;width:97px;height:59.7px"><i style="top:12.33px">A-31-03A</i><u class="" style="top:33.13px">TYPE D</u></div><div class="c tD" style="left:1834.0px;top:1497.0px;width:97px;height:59.7px"><i style="top:12.33px">A-31-05</i><u class="" style="top:33.13px">TYPE D</u></div><div class="c tB2" style="left:1934.0px;top:1497.0px;width:147px;height:59.7px"><i style="top:12.33px">A-31-06</i><u class="" style="top:33.13px">TYPE B2</u></div><div class="c tA3" style="left:2084.0px;top:1497.0px;width:147px;height:59.7px"><i style="top:12.33px">A-31-07</i><u class="" style="top:33.13px">TYPE A3</u></div><div class="c tC" style="left:2234.0px;top:1497.0px;width:97px;height:59.7px"><i style="top:12.33px">A-31-08</i><u class="" style="top:33.13px">TYPE C</u></div><div class="c tC" style="left:1334.0px;top:1560.0px;width:97px;height:61.0px"><i style="top:12.98px">A-30-01</i><u class="" style="top:33.78px">TYPE C</u></div><div class="c tB1" style="left:1434.0px;top:1560.0px;width:147px;height:61.0px"><i style="top:12.98px">A-30-02</i><u class="n" style="top:33.78px">TYPE B1</u></div><div class="c tA2" style="left:1584.0px;top:1560.0px;width:147px;height:61.0px"><i style="top:12.98px">A-30-03</i><u class="" style="top:33.78px">TYPE A2</u></div><div class="c tD" style="left:1734.0px;top:1560.0px;width:97px;height:61.0px"><i style="top:12.98px">A-30-03A</i><u class="" style="top:33.78px">TYPE D</u></div><div class="c tD" style="left:1834.0px;top:1560.0px;width:97px;height:61.0px"><i style="top:12.98px">A-30-05</i><u class="" style="top:33.78px">TYPE D</u></div><div class="c tB1" style="left:1934.0px;top:1560.0px;width:147px;height:61.0px"><i style="top:12.98px">A-30-06</i><u class="n" style="top:33.78px">TYPE B1</u></div><div class="c tA2" style="left:2084.0px;top:1560.0px;width:147px;height:61.0px"><i style="top:12.98px">A-30-07</i><u class="" style="top:33.78px">TYPE A2</u></div><div class="c tC" style="left:2234.0px;top:1560.0px;width:97px;height:61.0px"><i style="top:12.98px">A-30-08</i><u class="" style="top:33.78px">TYPE C</u></div><div class="c tC" style="left:1334.0px;top:1624.0px;width:97px;height:59.6px"><i style="top:12.28px">A-29-01</i><u class="" style="top:33.08px">TYPE C</u></div><div class="c tB1" style="left:1434.0px;top:1624.0px;width:147px;height:59.6px"><i style="top:12.28px">A-29-02</i><u class="n" style="top:33.08px">TYPE B1</u></div><div class="c tA2" style="left:1584.0px;top:1624.0px;width:147px;height:59.6px"><i style="top:12.28px">A-29-03</i><u class="" style="top:33.08px">TYPE A2</u></div><div class="c tD" style="left:1734.0px;top:1624.0px;width:97px;height:59.6px"><i style="top:12.28px">A-29-03A</i><u class="" style="top:33.08px">TYPE D</u></div><div class="c tD" style="left:1834.0px;top:1624.0px;width:97px;height:59.6px"><i style="top:12.28px">A-29-05</i><u class="" style="top:33.08px">TYPE D</u></div><div class="c tB1" style="left:1934.0px;top:1624.0px;width:147px;height:59.6px"><i style="top:12.28px">A-29-06</i><u class="n" style="top:33.08px">TYPE B1</u></div><div class="c tA2" style="left:2084.0px;top:1624.0px;width:147px;height:59.6px"><i style="top:12.28px">A-29-07</i><u class="" style="top:33.08px">TYPE A2</u></div><div class="c tC" style="left:2234.0px;top:1624.0px;width:97px;height:59.6px"><i style="top:12.28px">A-29-08</i><u class="" style="top:33.08px">TYPE C</u></div><div class="c tC" style="left:1334.0px;top:1687.1px;width:97px;height:56.4px"><i style="top:10.68px">A-28-01</i><u class="" style="top:31.48px">TYPE C</u></div><div class="c tB1" style="left:1434.0px;top:1687.1px;width:147px;height:56.4px"><i style="top:10.68px">A-28-02</i><u class="n" style="top:31.48px">TYPE B1</u></div><div class="c tA2" style="left:1584.0px;top:1687.1px;width:147px;height:56.4px"><i style="top:10.68px">A-28-03</i><u class="" style="top:31.48px">TYPE A2</u></div><div class="c tD" style="left:1734.0px;top:1687.1px;width:97px;height:56.4px"><i style="top:10.68px">A-28-03A</i><u class="" style="top:31.48px">TYPE D</u></div><div class="c tD" style="left:1834.0px;top:1687.1px;width:97px;height:56.4px"><i style="top:10.68px">A-28-05</i><u class="" style="top:31.48px">TYPE D</u></div><div class="c tB1" style="left:1934.0px;top:1687.1px;width:147px;height:56.4px"><i style="top:10.68px">A-28-06</i><u class="n" style="top:31.48px">TYPE B1</u></div><div class="c tA2" style="left:2084.0px;top:1687.1px;width:147px;height:56.4px"><i style="top:10.68px">A-28-07</i><u class="" style="top:31.48px">TYPE A2</u></div><div class="c tC" style="left:2234.0px;top:1687.1px;width:97px;height:56.4px"><i style="top:10.68px">A-28-08</i><u class="" style="top:31.48px">TYPE C</u></div><div class="c tC" style="left:1334.0px;top:1747.0px;width:97px;height:59.7px"><i style="top:12.33px">A-27-01</i><u class="" style="top:33.13px">TYPE C</u></div><div class="c tB1" style="left:1434.0px;top:1747.0px;width:147px;height:59.7px"><i style="top:12.33px">A-27-02</i><u class="n" style="top:33.13px">TYPE B1</u></div><div class="c tA2" style="left:1584.0px;top:1747.0px;width:147px;height:59.7px"><i style="top:12.33px">A-27-03</i><u class="" style="top:33.13px">TYPE A2</u></div><div class="c tD" style="left:1734.0px;top:1747.0px;width:97px;height:59.7px"><i style="top:12.33px">A-27-03A</i><u class="" style="top:33.13px">TYPE D</u></div><div class="c tD" style="left:1834.0px;top:1747.0px;width:97px;height:59.7px"><i style="top:12.33px">A-27-05</i><u class="" style="top:33.13px">TYPE D</u></div><div class="c tB1" style="left:1934.0px;top:1747.0px;width:147px;height:59.7px"><i style="top:12.33px">A-27-06</i><u class="n" style="top:33.13px">TYPE B1</u></div><div class="c tA2" style="left:2084.0px;top:1747.0px;width:147px;height:59.7px"><i style="top:12.33px">A-27-07</i><u class="" style="top:33.13px">TYPE A2</u></div><div class="c tC" style="left:2234.0px;top:1747.0px;width:97px;height:59.7px"><i style="top:12.33px">A-27-08</i><u class="" style="top:33.13px">TYPE C</u></div><div class="c tC" style="left:1334.0px;top:1809.4px;width:97px;height:59.2px"><i style="top:12.08px">A-26-01</i><u class="" style="top:32.88px">TYPE C</u></div><div class="c tB1" style="left:1434.0px;top:1809.4px;width:147px;height:59.2px"><i style="top:12.08px">A-26-02</i><u class="n" style="top:32.88px">TYPE B1</u></div><div class="c tA2" style="left:1584.0px;top:1809.4px;width:147px;height:59.2px"><i style="top:12.08px">A-26-03</i><u class="" style="top:32.88px">TYPE A2</u></div><div class="c tD" style="left:1734.0px;top:1809.4px;width:97px;height:59.2px"><i style="top:12.08px">A-26-03A</i><u class="" style="top:32.88px">TYPE D</u></div><div class="c tD" style="left:1834.0px;top:1809.4px;width:97px;height:59.2px"><i style="top:12.08px">A-26-05</i><u class="" style="top:32.88px">TYPE D</u></div><div class="c tB1" style="left:1934.0px;top:1809.4px;width:147px;height:59.2px"><i style="top:12.08px">A-26-06</i><u class="n" style="top:32.88px">TYPE B1</u></div><div class="c tA2" style="left:2084.0px;top:1809.4px;width:147px;height:59.2px"><i style="top:12.08px">A-26-07</i><u class="" style="top:32.88px">TYPE A2</u></div><div class="c tC" style="left:2234.0px;top:1809.4px;width:97px;height:59.2px"><i style="top:12.08px">A-26-08</i><u class="" style="top:32.88px">TYPE C</u></div><div class="c tC" style="left:1334.0px;top:1872.0px;width:97px;height:58.7px"><i style="top:11.83px">A-25-01</i><u class="" style="top:32.63px">TYPE C</u></div><div class="c tB" style="left:1434.0px;top:1872.0px;width:97px;height:58.7px"><i style="top:11.83px">A-25-02</i><u class="" style="top:32.63px">TYPE B</u></div><div class="c tA1" style="left:1634.0px;top:1872.0px;width:97px;height:58.7px"><i style="top:11.83px">A-25-03</i><u class="n" style="top:32.63px">TYPE A1</u></div><div class="c tD" style="left:1734.0px;top:1872.0px;width:97px;height:58.7px"><i style="top:11.83px">A-25-03A</i><u class="" style="top:32.63px">TYPE D</u></div><div class="c tD" style="left:1834.0px;top:1872.0px;width:97px;height:58.7px"><i style="top:11.83px">A-25-05</i><u class="" style="top:32.63px">TYPE D</u></div><div class="c tB" style="left:1934.0px;top:1872.0px;width:97px;height:58.7px"><i style="top:11.83px">A-25-06</i><u class="" style="top:32.63px">TYPE B</u></div><div class="c tA1" style="left:2134.0px;top:1872.0px;width:97px;height:58.7px"><i style="top:11.83px">A-25-07</i><u class="n" style="top:32.63px">TYPE A1</u></div><div class="c tC" style="left:2234.0px;top:1872.0px;width:97px;height:58.7px"><i style="top:11.83px">A-25-08</i><u class="" style="top:32.63px">TYPE C</u></div><div style="left:1534.0px;top:1931.1px;width:97.4px;height:1.9px;background:#bcbcbc"></div><div style="left:2034.0px;top:1931.1px;width:97.4px;height:1.9px;background:#bcbcbc"></div><div class="c tC" style="left:1334.0px;top:1933.8px;width:97px;height:59.7px"><i style="top:12.33px">A-23A-01</i><u class="" style="top:33.13px">TYPE C</u></div><div class="c tB" style="left:1434.0px;top:1933.8px;width:97px;height:59.7px"><i style="top:12.33px">A-23A-02</i><u class="" style="top:33.13px">TYPE B</u></div><div class="c tA1" style="left:1634.0px;top:1933.8px;width:97px;height:59.7px"><i style="top:12.33px">A-23A-03</i><u class="n" style="top:33.13px">TYPE A1</u></div><div class="c tD" style="left:1734.0px;top:1933.8px;width:97px;height:59.7px"><i style="top:12.33px">A-23A-03A</i><u class="" style="top:33.13px">TYPE D</u></div><div class="c tD" style="left:1834.0px;top:1933.8px;width:97px;height:59.7px"><i style="top:12.33px">A-23A-05</i><u class="" style="top:33.13px">TYPE D</u></div><div class="tG" style="left:1934.0px;top:1933.8px;width:97px;height:59.7px"></div><div class="c tA1" style="left:2134.0px;top:1933.8px;width:97px;height:59.7px"><i style="top:12.33px">A-23A-06</i><u class="n" style="top:33.13px">TYPE A1</u></div><div class="c tC" style="left:2234.0px;top:1933.8px;width:97px;height:59.7px"><i style="top:12.33px">A-23A-07</i><u class="" style="top:33.13px">TYPE C</u></div><div class="c tC" style="left:1334.0px;top:1996.0px;width:97px;height:60.0px"><i style="top:12.48px">A-23-01</i><u class="" style="top:33.28px">TYPE C</u></div><div class="c tB2" style="left:1434.0px;top:1996.0px;width:147px;height:60.0px"><i style="top:12.48px">A-23-02</i><u class="" style="top:33.28px">TYPE B2</u></div><div class="c tA3" style="left:1584.0px;top:1996.0px;width:147px;height:60.0px"><i style="top:12.48px">A-23-03</i><u class="" style="top:33.28px">TYPE A3</u></div><div class="c tD" style="left:1734.0px;top:1996.0px;width:97px;height:60.0px"><i style="top:12.48px">A-23-03A</i><u class="" style="top:33.28px">TYPE D</u></div><div class="c tD" style="left:1834.0px;top:1996.0px;width:97px;height:60.0px"><i style="top:12.48px">A-23-05</i><u class="" style="top:33.28px">TYPE D</u></div><div class="c tB2" style="left:1934.0px;top:1996.0px;width:147px;height:60.0px"><i style="top:12.48px">A-23-06</i><u class="" style="top:33.28px">TYPE B2</u></div><div class="c tA3" style="left:2084.0px;top:1996.0px;width:147px;height:60.0px"><i style="top:12.48px">A-23-07</i><u class="" style="top:33.28px">TYPE A3</u></div><div class="c tC" style="left:2234.0px;top:1996.0px;width:97px;height:60.0px"><i style="top:12.48px">A-23-08</i><u class="" style="top:33.28px">TYPE C</u></div><div class="c tC" style="left:1334.0px;top:2059.1px;width:97px;height:53.7px"><i style="top:9.33px">A-22-01</i><u class="" style="top:30.13px">TYPE C</u></div><div class="c tB1" style="left:1434.0px;top:2059.1px;width:147px;height:53.7px"><i style="top:9.33px">A-22-02</i><u class="n" style="top:30.13px">TYPE B1</u></div><div class="c tA2" style="left:1584.0px;top:2059.1px;width:147px;height:53.7px"><i style="top:9.33px">A-22-03</i><u class="" style="top:30.13px">TYPE A2</u></div><div class="c tD" style="left:1734.0px;top:2059.1px;width:97px;height:53.7px"><i style="top:9.33px">A-22-03A</i><u class="" style="top:30.13px">TYPE D</u></div><div class="c tD" style="left:1834.0px;top:2059.1px;width:97px;height:53.7px"><i style="top:9.33px">A-22-05</i><u class="" style="top:30.13px">TYPE D</u></div><div class="c tB1" style="left:1934.0px;top:2059.1px;width:147px;height:53.7px"><i style="top:9.33px">A-22-06</i><u class="n" style="top:30.13px">TYPE B1</u></div><div class="c tA2" style="left:2084.0px;top:2059.1px;width:147px;height:53.7px"><i style="top:9.33px">A-22-07</i><u class="" style="top:30.13px">TYPE A2</u></div><div class="c tC" style="left:2234.0px;top:2059.1px;width:97px;height:53.7px"><i style="top:9.33px">A-22-08</i><u class="" style="top:30.13px">TYPE C</u></div><div class="c tC" style="left:1334.0px;top:2115.8px;width:97px;height:59.0px"><i style="top:11.98px">A-21-01</i><u class="" style="top:32.78px">TYPE C</u></div><div class="c tB1" style="left:1434.0px;top:2115.8px;width:147px;height:59.0px"><i style="top:11.98px">A-21-02</i><u class="n" style="top:32.78px">TYPE B1</u></div><div class="c tA2" style="left:1584.0px;top:2115.8px;width:147px;height:59.0px"><i style="top:11.98px">A-21-03</i><u class="" style="top:32.78px">TYPE A2</u></div><div class="c tD" style="left:1734.0px;top:2115.8px;width:97px;height:59.0px"><i style="top:11.98px">A-21-03A</i><u class="" style="top:32.78px">TYPE D</u></div><div class="c tD" style="left:1834.0px;top:2115.8px;width:97px;height:59.0px"><i style="top:11.98px">A-21-05</i><u class="" style="top:32.78px">TYPE D</u></div><div class="c tB1" style="left:1934.0px;top:2115.8px;width:147px;height:59.0px"><i style="top:11.98px">A-21-06</i><u class="n" style="top:32.78px">TYPE B1</u></div><div class="c tA2" style="left:2084.0px;top:2115.8px;width:147px;height:59.0px"><i style="top:11.98px">A-21-07</i><u class="" style="top:32.78px">TYPE A2</u></div><div class="c tC" style="left:2234.0px;top:2115.8px;width:97px;height:59.0px"><i style="top:11.98px">A-21-08</i><u class="" style="top:32.78px">TYPE C</u></div><div class="c tC" style="left:1334.0px;top:2178.2px;width:97px;height:59.7px"><i style="top:12.33px">A-20-01</i><u class="" style="top:33.13px">TYPE C</u></div><div class="c tB1" style="left:1434.0px;top:2178.2px;width:147px;height:59.7px"><i style="top:12.33px">A-20-02</i><u class="n" style="top:33.13px">TYPE B1</u></div><div class="c tA2" style="left:1584.0px;top:2178.2px;width:147px;height:59.7px"><i style="top:12.33px">A-20-03</i><u class="" style="top:33.13px">TYPE A2</u></div><div class="c tD" style="left:1734.0px;top:2178.2px;width:97px;height:59.7px"><i style="top:12.33px">A-20-03A</i><u class="" style="top:33.13px">TYPE D</u></div><div class="c tD" style="left:1834.0px;top:2178.2px;width:97px;height:59.7px"><i style="top:12.33px">A-20-05</i><u class="" style="top:33.13px">TYPE D</u></div><div class="tG" style="left:1934.0px;top:2178.2px;width:147px;height:59.7px"></div><div class="c tA2" style="left:2084.0px;top:2178.2px;width:147px;height:59.7px"><i style="top:12.33px">A-20-06</i><u class="" style="top:33.13px">TYPE A2</u></div><div class="c tC" style="left:2234.0px;top:2178.2px;width:97px;height:59.7px"><i style="top:12.33px">A-20-07</i><u class="" style="top:33.13px">TYPE C</u></div><div class="c tC" style="left:1334.0px;top:2240.3px;width:97px;height:59.2px"><i style="top:12.08px">A-19-01</i><u class="" style="top:32.88px">TYPE C</u></div><div class="c tB1" style="left:1434.0px;top:2240.3px;width:147px;height:59.2px"><i style="top:12.08px">A-19-02</i><u class="n" style="top:32.88px">TYPE B1</u></div><div class="c tA2" style="left:1584.0px;top:2240.3px;width:147px;height:59.2px"><i style="top:12.08px">A-19-03</i><u class="" style="top:32.88px">TYPE A2</u></div><div class="c tD" style="left:1734.0px;top:2240.3px;width:97px;height:59.2px"><i style="top:12.08px">A-19-03A</i><u class="" style="top:32.88px">TYPE D</u></div><div class="c tD" style="left:1834.0px;top:2240.3px;width:97px;height:59.2px"><i style="top:12.08px">A-19-05</i><u class="" style="top:32.88px">TYPE D</u></div><div class="tG" style="left:1934.0px;top:2240.3px;width:147px;height:59.2px"></div><div class="c tA2" style="left:2084.0px;top:2240.3px;width:147px;height:59.2px"><i style="top:12.08px">A-19-06</i><u class="" style="top:32.88px">TYPE A2</u></div><div class="c tC" style="left:2234.0px;top:2240.3px;width:97px;height:59.2px"><i style="top:12.08px">A-19-07</i><u class="" style="top:32.88px">TYPE C</u></div><div class="c tC" style="left:1334.0px;top:2303.2px;width:97px;height:58.5px"><i style="top:11.73px">A-18-01</i><u class="" style="top:32.53px">TYPE C</u></div><div class="c tB1" style="left:1434.0px;top:2303.2px;width:147px;height:58.5px"><i style="top:11.73px">A-18-02</i><u class="n" style="top:32.53px">TYPE B1</u></div><div class="c tA2" style="left:1584.0px;top:2303.2px;width:147px;height:58.5px"><i style="top:11.73px">A-18-03</i><u class="" style="top:32.53px">TYPE A2</u></div><div class="c tD" style="left:1734.0px;top:2303.2px;width:97px;height:58.5px"><i style="top:11.73px">A-18-03A</i><u class="" style="top:32.53px">TYPE D</u></div><div class="c tD" style="left:1834.0px;top:2303.2px;width:97px;height:58.5px"><i style="top:11.73px">A-18-05</i><u class="" style="top:32.53px">TYPE D</u></div><div class="c tB1" style="left:1934.0px;top:2303.2px;width:147px;height:58.5px"><i style="top:11.73px">A-18-06</i><u class="n" style="top:32.53px">TYPE B1</u></div><div class="c tA2" style="left:2084.0px;top:2303.2px;width:147px;height:58.5px"><i style="top:11.73px">A-18-07</i><u class="" style="top:32.53px">TYPE A2</u></div><div class="c tC" style="left:2234.0px;top:2303.2px;width:97px;height:58.5px"><i style="top:11.73px">A-18-08</i><u class="" style="top:32.53px">TYPE C</u></div><div class="c tC" style="left:1334.0px;top:2365.3px;width:97px;height:59.4px"><i style="top:12.18px">A-17-01</i><u class="" style="top:32.98px">TYPE C</u></div><div class="c tB" style="left:1434.0px;top:2365.3px;width:97px;height:59.4px"><i style="top:12.18px">A-17-02</i><u class="" style="top:32.98px">TYPE B</u></div><div class="c tA1" style="left:1634.0px;top:2365.3px;width:97px;height:59.4px"><i style="top:12.18px">A-17-03</i><u class="n" style="top:32.98px">TYPE A1</u></div><div class="c tD" style="left:1734.0px;top:2365.3px;width:97px;height:59.4px"><i style="top:12.18px">A-17-03A</i><u class="" style="top:32.98px">TYPE D</u></div><div class="c tD" style="left:1834.0px;top:2365.3px;width:97px;height:59.4px"><i style="top:12.18px">A-17-05</i><u class="" style="top:32.98px">TYPE D</u></div><div class="c tB" style="left:1934.0px;top:2365.3px;width:97px;height:59.4px"><i style="top:12.18px">A-17-06</i><u class="" style="top:32.98px">TYPE B</u></div><div class="c tA1" style="left:2134.0px;top:2365.3px;width:97px;height:59.4px"><i style="top:12.18px">A-17-07</i><u class="n" style="top:32.98px">TYPE A1</u></div><div class="c tC" style="left:2234.0px;top:2365.3px;width:97px;height:59.4px"><i style="top:12.18px">A-17-08</i><u class="" style="top:32.98px">TYPE C</u></div><div style="left:1534.0px;top:2425.1px;width:97.4px;height:1.9px;background:#bcbcbc"></div><div style="left:2034.0px;top:2425.1px;width:97.4px;height:1.9px;background:#bcbcbc"></div><div class="c tC" style="left:1334.0px;top:2427.2px;width:97px;height:61.3px"><i style="top:13.13px">A-16-01</i><u class="" style="top:33.93px">TYPE C</u></div><div class="c tB" style="left:1434.0px;top:2427.2px;width:97px;height:61.3px"><i style="top:13.13px">A-16-02</i><u class="" style="top:33.93px">TYPE B</u></div><div class="c tA1" style="left:1634.0px;top:2427.2px;width:97px;height:61.3px"><i style="top:13.13px">A-16-03</i><u class="n" style="top:33.93px">TYPE A1</u></div><div class="c tD" style="left:1734.0px;top:2427.2px;width:97px;height:61.3px"><i style="top:13.13px">A-16-03A</i><u class="" style="top:33.93px">TYPE D</u></div><div class="c tD" style="left:1834.0px;top:2427.2px;width:97px;height:61.3px"><i style="top:13.13px">A-16-05</i><u class="" style="top:33.93px">TYPE D</u></div><div class="c tB" style="left:1934.0px;top:2427.2px;width:97px;height:61.3px"><i style="top:13.13px">A-16-06</i><u class="" style="top:33.93px">TYPE B</u></div><div class="c tA1" style="left:2134.0px;top:2427.2px;width:97px;height:61.3px"><i style="top:13.13px">A-16-07</i><u class="n" style="top:33.93px">TYPE A1</u></div><div class="c tC" style="left:2234.0px;top:2427.2px;width:97px;height:61.3px"><i style="top:13.13px">A-16-08</i><u class="" style="top:33.93px">TYPE C</u></div><div class="c tC" style="left:1334.0px;top:2492.1px;width:97px;height:59.7px"><i style="top:12.33px">A-15-01</i><u class="" style="top:33.13px">TYPE C</u></div><div class="c tB2" style="left:1434.0px;top:2492.1px;width:147px;height:59.7px"><i style="top:12.33px">A-15-02</i><u class="" style="top:33.13px">TYPE B2</u></div><div class="c tA3" style="left:1584.0px;top:2492.1px;width:147px;height:59.7px"><i style="top:12.33px">A-15-03</i><u class="" style="top:33.13px">TYPE A3</u></div><div class="c tD" style="left:1734.0px;top:2492.1px;width:97px;height:59.7px"><i style="top:12.33px">A-15-03A</i><u class="" style="top:33.13px">TYPE D</u></div><div class="c tD" style="left:1834.0px;top:2492.1px;width:97px;height:59.7px"><i style="top:12.33px">A-15-05</i><u class="" style="top:33.13px">TYPE D</u></div><div class="c tB2" style="left:1934.0px;top:2492.1px;width:147px;height:59.7px"><i style="top:12.33px">A-15-06</i><u class="" style="top:33.13px">TYPE B2</u></div><div class="c tA3" style="left:2084.0px;top:2492.1px;width:147px;height:59.7px"><i style="top:12.33px">A-15-07</i><u class="" style="top:33.13px">TYPE A3</u></div><div class="c tC" style="left:2234.0px;top:2492.1px;width:97px;height:59.7px"><i style="top:12.33px">A-15-08</i><u class="" style="top:33.13px">TYPE C</u></div><div class="c tC" style="left:1334.0px;top:2554.2px;width:97px;height:59.4px"><i style="top:12.18px">A-13A-01</i><u class="" style="top:32.98px">TYPE C</u></div><div class="c tB" style="left:1434.0px;top:2554.2px;width:97px;height:59.4px"><i style="top:12.18px">A-13A-02</i><u class="" style="top:32.98px">TYPE B</u></div><div class="c tA" style="left:1534.0px;top:2554.2px;width:97px;height:59.4px"><i style="top:12.18px">A-13A-03</i><u class="" style="top:32.98px">TYPE A</u></div><div class="c tA" style="left:1634.0px;top:2554.2px;width:97px;height:59.4px"><i style="top:12.18px">A-13A-03A</i><u class="" style="top:32.98px">TYPE A</u></div><div class="c tD" style="left:1734.0px;top:2554.2px;width:97px;height:59.4px"><i style="top:12.18px">A-13A-05</i><u class="" style="top:32.98px">TYPE D</u></div><div class="c tD" style="left:1834.0px;top:2554.2px;width:97px;height:59.4px"><i style="top:12.18px">A-13A-06</i><u class="" style="top:32.98px">TYPE D</u></div><div class="c tB" style="left:1934.0px;top:2554.2px;width:97px;height:59.4px"><i style="top:12.18px">A-13A-07</i><u class="" style="top:32.98px">TYPE B</u></div><div class="c tA" style="left:2034.0px;top:2554.2px;width:97px;height:59.4px"><i style="top:12.18px">A-13A-08</i><u class="" style="top:32.98px">TYPE A</u></div><div class="c tA" style="left:2134.0px;top:2554.2px;width:97px;height:59.4px"><i style="top:12.18px">A-13A-09</i><u class="" style="top:32.98px">TYPE A</u></div><div class="c tC" style="left:2234.0px;top:2554.2px;width:97px;height:59.4px"><i style="top:12.18px">A-13A-10</i><u class="" style="top:32.98px">TYPE C</u></div><div class="c tC" style="left:1334.0px;top:2616.7px;width:97px;height:59.0px"><i style="top:11.98px">B-13-01</i><u class="" style="top:32.78px">TYPE C</u></div><div class="c tB" style="left:1434.0px;top:2616.7px;width:97px;height:59.0px"><i style="top:11.98px">A-13-02</i><u class="" style="top:32.78px">TYPE B</u></div><div class="c tA" style="left:1534.0px;top:2616.7px;width:97px;height:59.0px"><i style="top:11.98px">A-13-03</i><u class="" style="top:32.78px">TYPE A</u></div><div class="c tA" style="left:1634.0px;top:2616.7px;width:97px;height:59.0px"><i style="top:11.98px">A-13-03A</i><u class="" style="top:32.78px">TYPE A</u></div><div class="c tD" style="left:1734.0px;top:2616.7px;width:97px;height:59.0px"><i style="top:11.98px">A-13-05</i><u class="" style="top:32.78px">TYPE D</u></div><div class="c tD" style="left:1834.0px;top:2616.7px;width:97px;height:59.0px"><i style="top:11.98px">A-13-06</i><u class="" style="top:32.78px">TYPE D</u></div><div class="c tB" style="left:1934.0px;top:2616.7px;width:97px;height:59.0px"><i style="top:11.98px">A-13-07</i><u class="" style="top:32.78px">TYPE B</u></div><div class="c tA" style="left:2034.0px;top:2616.7px;width:97px;height:59.0px"><i style="top:11.98px">A-13-08</i><u class="" style="top:32.78px">TYPE A</u></div><div class="c tA" style="left:2134.0px;top:2616.7px;width:97px;height:59.0px"><i style="top:11.98px">A-13-09</i><u class="" style="top:32.78px">TYPE A</u></div><div class="c tC" style="left:2234.0px;top:2616.7px;width:97px;height:59.0px"><i style="top:11.98px">A-13-10</i><u class="" style="top:32.78px">TYPE C</u></div><div class="c tC" style="left:1334.0px;top:2679.2px;width:97px;height:59.7px"><i style="top:12.33px">A-12-01</i><u class="" style="top:33.13px">TYPE C</u></div><div class="c tB" style="left:1434.0px;top:2679.2px;width:97px;height:59.7px"><i style="top:12.33px">A-12-02</i><u class="" style="top:33.13px">TYPE B</u></div><div class="c tA" style="left:1534.0px;top:2679.2px;width:97px;height:59.7px"><i style="top:12.33px">A-12-03</i><u class="" style="top:33.13px">TYPE A</u></div><div class="c tA" style="left:1634.0px;top:2679.2px;width:97px;height:59.7px"><i style="top:12.33px">A-12-03A</i><u class="" style="top:33.13px">TYPE A</u></div><div class="c tD" style="left:1734.0px;top:2679.2px;width:97px;height:59.7px"><i style="top:12.33px">A-12-05</i><u class="" style="top:33.13px">TYPE D</u></div><div class="c tD" style="left:1834.0px;top:2679.2px;width:97px;height:59.7px"><i style="top:12.33px">A-12-06</i><u class="" style="top:33.13px">TYPE D</u></div><div class="c tB" style="left:1934.0px;top:2679.2px;width:97px;height:59.7px"><i style="top:12.33px">A-12-07</i><u class="" style="top:33.13px">TYPE B</u></div><div class="c tA" style="left:2034.0px;top:2679.2px;width:97px;height:59.7px"><i style="top:12.33px">A-12-08</i><u class="" style="top:33.13px">TYPE A</u></div><div class="c tA" style="left:2134.0px;top:2679.2px;width:97px;height:59.7px"><i style="top:12.33px">A-12-09</i><u class="" style="top:33.13px">TYPE A</u></div><div class="c tC" style="left:2234.0px;top:2679.2px;width:97px;height:59.7px"><i style="top:12.33px">A-12-10</i><u class="" style="top:33.13px">TYPE C</u></div><div class="c tC" style="left:1334.0px;top:2742.1px;width:97px;height:58.5px"><i style="top:11.73px">B-11-01</i><u class="" style="top:32.53px">TYPE C</u></div><div class="c tB" style="left:1434.0px;top:2742.1px;width:97px;height:58.5px"><i style="top:11.73px">A-11-02</i><u class="" style="top:32.53px">TYPE B</u></div><div class="c tA" style="left:1534.0px;top:2742.1px;width:97px;height:58.5px"><i style="top:11.73px">A-11-03</i><u class="" style="top:32.53px">TYPE A</u></div><div class="c tA" style="left:1634.0px;top:2742.1px;width:97px;height:58.5px"><i style="top:11.73px">A-11-03A</i><u class="" style="top:32.53px">TYPE A</u></div><div class="c tD" style="left:1734.0px;top:2742.1px;width:97px;height:58.5px"><i style="top:11.73px">A-11-05</i><u class="" style="top:32.53px">TYPE D</u></div><div class="c tD" style="left:1834.0px;top:2742.1px;width:97px;height:58.5px"><i style="top:11.73px">A-11-06</i><u class="" style="top:32.53px">TYPE D</u></div><div class="c tB" style="left:1934.0px;top:2742.1px;width:97px;height:58.5px"><i style="top:11.73px">A-11-07</i><u class="" style="top:32.53px">TYPE B</u></div><div class="c tA" style="left:2034.0px;top:2742.1px;width:97px;height:58.5px"><i style="top:11.73px">A-11-08</i><u class="" style="top:32.53px">TYPE A</u></div><div class="c tA" style="left:2134.0px;top:2742.1px;width:97px;height:58.5px"><i style="top:11.73px">A-11-09</i><u class="" style="top:32.53px">TYPE A</u></div><div class="c tC" style="left:2234.0px;top:2742.1px;width:97px;height:58.5px"><i style="top:11.73px">A-11-10</i><u class="" style="top:32.53px">TYPE C</u></div><div class="c tC" style="left:1334.0px;top:2804.2px;width:97px;height:59.6px"><i style="top:12.28px">A-10-01</i><u class="" style="top:33.08px">TYPE C</u></div><div class="c tB" style="left:1434.0px;top:2804.2px;width:97px;height:59.6px"><i style="top:12.28px">A-10-02</i><u class="" style="top:33.08px">TYPE B</u></div><div class="c tA" style="left:1534.0px;top:2804.2px;width:97px;height:59.6px"><i style="top:12.28px">A-10-03</i><u class="" style="top:33.08px">TYPE A</u></div><div class="c tA" style="left:1634.0px;top:2804.2px;width:97px;height:59.6px"><i style="top:12.28px">A-10-03A</i><u class="" style="top:33.08px">TYPE A</u></div><div class="c tD" style="left:1734.0px;top:2804.2px;width:97px;height:59.6px"><i style="top:12.28px">A-10-05</i><u class="" style="top:33.08px">TYPE D</u></div><div class="c tD" style="left:1834.0px;top:2804.2px;width:97px;height:59.6px"><i style="top:12.28px">A-10-06</i><u class="" style="top:33.08px">TYPE D</u></div><div class="c tB" style="left:1934.0px;top:2804.2px;width:97px;height:59.6px"><i style="top:12.28px">A-10-07</i><u class="" style="top:33.08px">TYPE B</u></div><div class="c tA" style="left:2034.0px;top:2804.2px;width:97px;height:59.6px"><i style="top:12.28px">A-10-08</i><u class="" style="top:33.08px">TYPE A</u></div><div class="c tA" style="left:2134.0px;top:2804.2px;width:97px;height:59.6px"><i style="top:12.28px">A-10-09</i><u class="" style="top:33.08px">TYPE A</u></div><div class="c tC" style="left:2234.0px;top:2804.2px;width:97px;height:59.6px"><i style="top:12.28px">A-10-10</i><u class="" style="top:33.08px">TYPE C</u></div><div class="c tC" style="left:1334.0px;top:2866.4px;width:97px;height:59.2px"><i style="top:12.08px">A-09-01</i><u class="" style="top:32.88px">TYPE C</u></div><div class="c tB" style="left:1434.0px;top:2866.4px;width:97px;height:59.2px"><i style="top:12.08px">A-09-02</i><u class="" style="top:32.88px">TYPE B</u></div><div class="c tA" style="left:1534.0px;top:2866.4px;width:97px;height:59.2px"><i style="top:12.08px">A-09-03</i><u class="" style="top:32.88px">TYPE A</u></div><div class="c tA" style="left:1634.0px;top:2866.4px;width:97px;height:59.2px"><i style="top:12.08px">A-09-03A</i><u class="" style="top:32.88px">TYPE A</u></div><div class="c tD" style="left:1734.0px;top:2866.4px;width:97px;height:59.2px"><i style="top:12.08px">A-09-05</i><u class="" style="top:32.88px">TYPE D</u></div><div class="c tD" style="left:1834.0px;top:2866.4px;width:97px;height:59.2px"><i style="top:12.08px">A-09-06</i><u class="" style="top:32.88px">TYPE D</u></div><div class="c tB" style="left:1934.0px;top:2866.4px;width:97px;height:59.2px"><i style="top:12.08px">A-09-07</i><u class="" style="top:32.88px">TYPE B</u></div><div class="c tA" style="left:2034.0px;top:2866.4px;width:97px;height:59.2px"><i style="top:12.08px">A-09-08</i><u class="" style="top:32.88px">TYPE A</u></div><div class="c tA" style="left:2134.0px;top:2866.4px;width:97px;height:59.2px"><i style="top:12.08px">A-09-09</i><u class="" style="top:32.88px">TYPE A</u></div><div class="c tC" style="left:2234.0px;top:2866.4px;width:97px;height:59.2px"><i style="top:12.08px">A-09-10</i><u class="" style="top:32.88px">TYPE C</u></div><div class="c tC" style="left:1334.0px;top:2929.2px;width:97px;height:58.2px"><i style="top:11.58px">A-08-01</i><u class="" style="top:32.38px">TYPE C</u></div><div class="c tB" style="left:1434.0px;top:2929.2px;width:97px;height:58.2px"><i style="top:11.58px">A-08-02</i><u class="" style="top:32.38px">TYPE B</u></div><div class="c tA" style="left:1534.0px;top:2929.2px;width:97px;height:58.2px"><i style="top:11.58px">A-08-03</i><u class="" style="top:32.38px">TYPE A</u></div><div class="c tA" style="left:1634.0px;top:2929.2px;width:97px;height:58.2px"><i style="top:11.58px">A-08-03A</i><u class="" style="top:32.38px">TYPE A</u></div><div class="c tD" style="left:1734.0px;top:2929.2px;width:97px;height:58.2px"><i style="top:11.58px">A-08-05</i><u class="" style="top:32.38px">TYPE D</u></div><div class="c tD" style="left:1834.0px;top:2929.2px;width:97px;height:58.2px"><i style="top:11.58px">A-08-06</i><u class="" style="top:32.38px">TYPE D</u></div><div class="c tB" style="left:1934.0px;top:2929.2px;width:97px;height:58.2px"><i style="top:11.58px">A-08-07</i><u class="" style="top:32.38px">TYPE B</u></div><div class="c tA" style="left:2034.0px;top:2929.2px;width:97px;height:58.2px"><i style="top:11.58px">A-08-08</i><u class="" style="top:32.38px">TYPE A</u></div><div class="c tA" style="left:2134.0px;top:2929.2px;width:97px;height:58.2px"><i style="top:11.58px">A-08-09</i><u class="" style="top:32.38px">TYPE A</u></div><div class="c tC" style="left:2234.0px;top:2929.2px;width:97px;height:58.2px"><i style="top:11.58px">A-08-10</i><u class="" style="top:32.38px">TYPE C</u></div><div style="left:224px;top:3001.4px;width:2107px;height:43.5px;background:#fdf0e6"></div><div style="top:3015.65px;font-size:21.2px;line-height:1;white-space:nowrap;left:977.50px;width:600px;text-align:center;color:#58595b;letter-spacing:1.0px;-webkit-text-stroke:.3px #58595b;"><b>TENOR</b> FACILITIES LEVEL</div><div style="left:224px;top:3047.9px;width:2107px;height:27.0px;background:#b8b7b7"></div><div style="left:224px;top:3077.6px;width:2107px;height:27.1px;background:#b8b7b7"></div><div style="left:224px;top:3107.4px;width:2107px;height:26.8px;background:#b8b7b7"></div><div style="left:224px;top:3136.9px;width:2107px;height:27.6px;background:#b8b7b7"></div><div style="left:224px;top:3167.0px;width:2107px;height:27.6px;background:#b8b7b7"></div><div style="left:224px;top:3197.4px;width:2107px;height:26.5px;background:#b8b7b7"></div><div style="left:224px;top:3226.4px;width:2107px;height:44.4px;background:#fdf0e6"></div><div style="top:3238.45px;font-size:21.2px;line-height:1;white-space:nowrap;left:977.50px;width:600px;text-align:center;color:#58595b;letter-spacing:1.25px;-webkit-text-stroke:.3px #58595b;"><b>BASS</b> AT LOBBY</div><div style="left:224px;top:3273.9px;width:789px;height:26.6px;background:#b8b7b7"></div><div style="left:1015.5px;top:3273.9px;width:1315.5px;height:26.6px;background:#dae3d3"></div><div style="top:3277.45px;font-size:21.2px;line-height:1;white-space:nowrap;left:418.80px;width:400px;text-align:center;color:#5f5f60;letter-spacing:1.25px;">CAR PARK</div><div style="top:3277.45px;font-size:21.2px;line-height:1;white-space:nowrap;left:1072.20px;width:400px;text-align:center;color:#58595b;letter-spacing:1.25px;">M&amp;E</div><div style="left:224px;top:3304.2px;width:2107px;height:27.4px;background:#b8b7b7"></div><div style="top:3307.05px;font-size:21.2px;line-height:1;white-space:nowrap;left:1078.00px;width:400px;text-align:center;color:#5f5f60;letter-spacing:1.25px;">CAR PARK</div><div class="fl" style="top:3014.08px">07</div><div class="fl" style="top:3047.48px">06</div><div class="fl" style="top:3078.28px">05</div><div class="fl" style="top:3108.58px">04</div><div class="fl" style="top:3138.88px">03</div><div class="fl" style="top:3169.38px">02</div><div class="fl" style="top:3200.08px">01</div><div class="fl" style="top:3236.28px">G</div><div class="fl" style="top:3276.58px">LG</div><div class="fl" style="top:3306.88px">B1</div><div style="left:2339.7px;top:3046px;width:19px;height:179px;border:2px solid #77787a;border-left:0"></div><div style="top:3112.32px;font-size:21px;line-height:1;white-space:nowrap;left:2322.50px;width:200px;text-align:center;color:#58595b;letter-spacing:.5px;-webkit-text-stroke:.3px #58595b;">ELEVATED</div><div style="top:3134.62px;font-size:21px;line-height:1;white-space:nowrap;left:2322.50px;width:200px;text-align:center;color:#58595b;letter-spacing:.5px;-webkit-text-stroke:.3px #58595b;">CAR PARK</div><div style="top:3157.82px;font-size:21px;line-height:1;white-space:nowrap;left:2322.50px;width:200px;text-align:center;color:#58595b;letter-spacing:1px;-webkit-text-stroke:.3px #58595b;">Level 1-6</div><svg style="position:absolute;left:0;top:0" width="2598" height="3543"><polygon points="224.8,3355.8 244.4,3345.6 244.4,3366" fill="#58595b"/><polygon points="2332,3355.2 2313.5,3345 2313.5,3365.4" fill="#58595b"/></svg><div style="top:3347.78px;font-size:16.8px;line-height:1;white-space:nowrap;left:257.50px;color:#58595b;-webkit-text-stroke:.25px #58595b;">LORONG RUMAH BISHOP</div><div style="top:3347.78px;font-size:16.8px;line-height:1;white-space:nowrap;left:2150.50px;color:#58595b;-webkit-text-stroke:.25px #58595b;">JALAN TUN RAZAK</div></body></html>
